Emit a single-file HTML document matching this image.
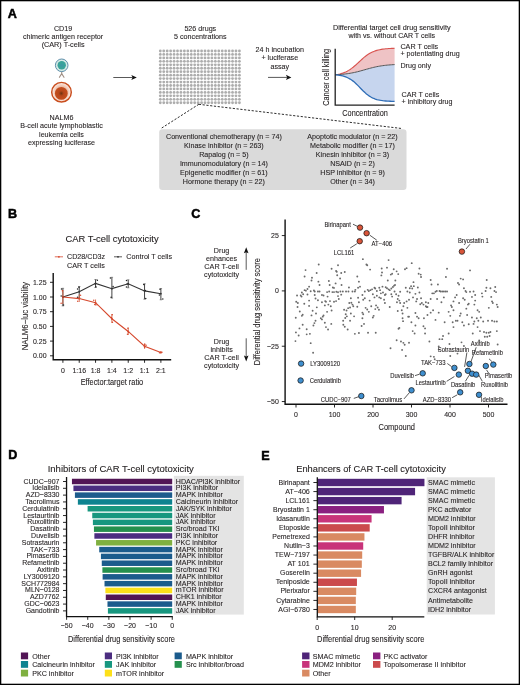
<!DOCTYPE html>
<html><head><meta charset="utf-8"><style>
html,body{margin:0;padding:0;background:#fff;}
svg{display:block;will-change:transform;}
text{font-family:"Liberation Sans", sans-serif;stroke:#231f20;stroke-width:0.1px;}
</style></head><body>
<svg width="520" height="685" viewBox="0 0 520 685">
<rect width="520" height="685" fill="#fff"/><g fill="#231f20">
<rect x="0.65" y="0.65" width="518.7" height="683.7" fill="none" stroke="#000" stroke-width="1.3"/>
<text x="7.80" y="18.20" font-size="12.6" fill="#000" font-weight="bold" style="stroke:#000;stroke-width:0.5px">A</text>
<text x="8.10" y="217.90" font-size="12.6" fill="#000" font-weight="bold" style="stroke:#000;stroke-width:0.5px">B</text>
<text x="191.30" y="217.90" font-size="12.6" fill="#000" font-weight="bold" style="stroke:#000;stroke-width:0.5px">C</text>
<text x="8.30" y="459.20" font-size="12.6" fill="#000" font-weight="bold" style="stroke:#000;stroke-width:0.5px">D</text>
<text x="261.20" y="459.80" font-size="12.6" fill="#000" font-weight="bold" style="stroke:#000;stroke-width:0.5px">E</text>
<text x="63.10" y="30.60" font-size="7.87" text-anchor="middle" textLength="18.28" lengthAdjust="spacingAndGlyphs">CD19</text>
<text x="63.10" y="38.75" font-size="7.87" text-anchor="middle" textLength="80.28" lengthAdjust="spacingAndGlyphs">chimeric antigen receptor</text>
<text x="63.10" y="47.10" font-size="7.87" text-anchor="middle" textLength="42.90" lengthAdjust="spacingAndGlyphs">(CAR) T-cells</text>
<text x="61.50" y="120.00" font-size="7.87" text-anchor="middle" textLength="23.84" lengthAdjust="spacingAndGlyphs">NALM6</text>
<text x="61.50" y="128.40" font-size="7.87" text-anchor="middle" textLength="82.66" lengthAdjust="spacingAndGlyphs">B-cell acute lymphoblastic</text>
<text x="61.50" y="136.70" font-size="7.87" text-anchor="middle" textLength="44.90" lengthAdjust="spacingAndGlyphs">leukemia cells</text>
<text x="61.50" y="145.00" font-size="7.87" text-anchor="middle" textLength="67.16" lengthAdjust="spacingAndGlyphs">expressing luciferase</text>
<g><path d="M61.7 71.5 L61.7 73.6 M61.7 73.6 L59.4 77.3 M61.7 73.6 L64.0 77.3" stroke="#a08f84" stroke-width="1.1" fill="none" stroke-linecap="round"/><circle cx="61.7" cy="65.3" r="6.3" fill="#d6ebe5" stroke="#5f8fab" stroke-width="1.0"/><circle cx="61.7" cy="65.3" r="4.2" fill="#3aa39a"/><circle cx="61.7" cy="65.3" r="1.6" fill="#3f95a8" opacity="0.6"/></g>
<defs><radialGradient id="ng" cx="50%" cy="50%" r="50%"><stop offset="0%" stop-color="#6e3410"/><stop offset="40%" stop-color="#b8461a"/><stop offset="100%" stop-color="#c44e1e"/></radialGradient><radialGradient id="ng2" cx="50%" cy="50%" r="50%"><stop offset="55%" stop-color="#eeb9a2"/><stop offset="100%" stop-color="#fdf1eb"/></radialGradient></defs>
<circle cx="61.5" cy="92.2" r="9.8" fill="url(#ng2)" stroke="#c94d1d" stroke-width="1.45"/>
<circle cx="61.3" cy="93.4" r="6.4" fill="url(#ng)"/>
<line x1="113.3" y1="77.5" x2="132.8" y2="77.5" stroke="#111" stroke-width="0.7"/>
<path d="M136.8 77.5 L131.3 74.9 L132.60000000000002 77.5 L131.3 80.1 Z" fill="#111"/>
<line x1="268.0" y1="77.4" x2="287.4" y2="77.4" stroke="#111" stroke-width="0.7"/>
<path d="M291.4 77.4 L285.9 74.80000000000001 L287.2 77.4 L285.9 80.0 Z" fill="#111"/>
<g fill="#adadad"><circle cx="160.30" cy="51.00" r="1.4"/><circle cx="163.74" cy="51.00" r="1.4"/><circle cx="167.18" cy="51.00" r="1.4"/><circle cx="170.62" cy="51.00" r="1.4"/><circle cx="174.06" cy="51.00" r="1.4"/><circle cx="177.50" cy="51.00" r="1.4"/><circle cx="180.94" cy="51.00" r="1.4"/><circle cx="184.38" cy="51.00" r="1.4"/><circle cx="187.82" cy="51.00" r="1.4"/><circle cx="191.26" cy="51.00" r="1.4"/><circle cx="194.70" cy="51.00" r="1.4"/><circle cx="198.14" cy="51.00" r="1.4"/><circle cx="201.58" cy="51.00" r="1.4"/><circle cx="205.02" cy="51.00" r="1.4"/><circle cx="208.46" cy="51.00" r="1.4"/><circle cx="211.90" cy="51.00" r="1.4"/><circle cx="215.34" cy="51.00" r="1.4"/><circle cx="218.78" cy="51.00" r="1.4"/><circle cx="222.22" cy="51.00" r="1.4"/><circle cx="225.66" cy="51.00" r="1.4"/><circle cx="229.10" cy="51.00" r="1.4"/><circle cx="232.54" cy="51.00" r="1.4"/><circle cx="235.98" cy="51.00" r="1.4"/><circle cx="239.42" cy="51.00" r="1.4"/><circle cx="160.30" cy="54.45" r="1.4"/><circle cx="163.74" cy="54.45" r="1.4"/><circle cx="167.18" cy="54.45" r="1.4"/><circle cx="170.62" cy="54.45" r="1.4"/><circle cx="174.06" cy="54.45" r="1.4"/><circle cx="177.50" cy="54.45" r="1.4"/><circle cx="180.94" cy="54.45" r="1.4"/><circle cx="184.38" cy="54.45" r="1.4"/><circle cx="187.82" cy="54.45" r="1.4"/><circle cx="191.26" cy="54.45" r="1.4"/><circle cx="194.70" cy="54.45" r="1.4"/><circle cx="198.14" cy="54.45" r="1.4"/><circle cx="201.58" cy="54.45" r="1.4"/><circle cx="205.02" cy="54.45" r="1.4"/><circle cx="208.46" cy="54.45" r="1.4"/><circle cx="211.90" cy="54.45" r="1.4"/><circle cx="215.34" cy="54.45" r="1.4"/><circle cx="218.78" cy="54.45" r="1.4"/><circle cx="222.22" cy="54.45" r="1.4"/><circle cx="225.66" cy="54.45" r="1.4"/><circle cx="229.10" cy="54.45" r="1.4"/><circle cx="232.54" cy="54.45" r="1.4"/><circle cx="235.98" cy="54.45" r="1.4"/><circle cx="239.42" cy="54.45" r="1.4"/><circle cx="160.30" cy="57.90" r="1.4"/><circle cx="163.74" cy="57.90" r="1.4"/><circle cx="167.18" cy="57.90" r="1.4"/><circle cx="170.62" cy="57.90" r="1.4"/><circle cx="174.06" cy="57.90" r="1.4"/><circle cx="177.50" cy="57.90" r="1.4"/><circle cx="180.94" cy="57.90" r="1.4"/><circle cx="184.38" cy="57.90" r="1.4"/><circle cx="187.82" cy="57.90" r="1.4"/><circle cx="191.26" cy="57.90" r="1.4"/><circle cx="194.70" cy="57.90" r="1.4"/><circle cx="198.14" cy="57.90" r="1.4"/><circle cx="201.58" cy="57.90" r="1.4"/><circle cx="205.02" cy="57.90" r="1.4"/><circle cx="208.46" cy="57.90" r="1.4"/><circle cx="211.90" cy="57.90" r="1.4"/><circle cx="215.34" cy="57.90" r="1.4"/><circle cx="218.78" cy="57.90" r="1.4"/><circle cx="222.22" cy="57.90" r="1.4"/><circle cx="225.66" cy="57.90" r="1.4"/><circle cx="229.10" cy="57.90" r="1.4"/><circle cx="232.54" cy="57.90" r="1.4"/><circle cx="235.98" cy="57.90" r="1.4"/><circle cx="239.42" cy="57.90" r="1.4"/><circle cx="160.30" cy="61.35" r="1.4"/><circle cx="163.74" cy="61.35" r="1.4"/><circle cx="167.18" cy="61.35" r="1.4"/><circle cx="170.62" cy="61.35" r="1.4"/><circle cx="174.06" cy="61.35" r="1.4"/><circle cx="177.50" cy="61.35" r="1.4"/><circle cx="180.94" cy="61.35" r="1.4"/><circle cx="184.38" cy="61.35" r="1.4"/><circle cx="187.82" cy="61.35" r="1.4"/><circle cx="191.26" cy="61.35" r="1.4"/><circle cx="194.70" cy="61.35" r="1.4"/><circle cx="198.14" cy="61.35" r="1.4"/><circle cx="201.58" cy="61.35" r="1.4"/><circle cx="205.02" cy="61.35" r="1.4"/><circle cx="208.46" cy="61.35" r="1.4"/><circle cx="211.90" cy="61.35" r="1.4"/><circle cx="215.34" cy="61.35" r="1.4"/><circle cx="218.78" cy="61.35" r="1.4"/><circle cx="222.22" cy="61.35" r="1.4"/><circle cx="225.66" cy="61.35" r="1.4"/><circle cx="229.10" cy="61.35" r="1.4"/><circle cx="232.54" cy="61.35" r="1.4"/><circle cx="235.98" cy="61.35" r="1.4"/><circle cx="239.42" cy="61.35" r="1.4"/><circle cx="160.30" cy="64.80" r="1.4"/><circle cx="163.74" cy="64.80" r="1.4"/><circle cx="167.18" cy="64.80" r="1.4"/><circle cx="170.62" cy="64.80" r="1.4"/><circle cx="174.06" cy="64.80" r="1.4"/><circle cx="177.50" cy="64.80" r="1.4"/><circle cx="180.94" cy="64.80" r="1.4"/><circle cx="184.38" cy="64.80" r="1.4"/><circle cx="187.82" cy="64.80" r="1.4"/><circle cx="191.26" cy="64.80" r="1.4"/><circle cx="194.70" cy="64.80" r="1.4"/><circle cx="198.14" cy="64.80" r="1.4"/><circle cx="201.58" cy="64.80" r="1.4"/><circle cx="205.02" cy="64.80" r="1.4"/><circle cx="208.46" cy="64.80" r="1.4"/><circle cx="211.90" cy="64.80" r="1.4"/><circle cx="215.34" cy="64.80" r="1.4"/><circle cx="218.78" cy="64.80" r="1.4"/><circle cx="222.22" cy="64.80" r="1.4"/><circle cx="225.66" cy="64.80" r="1.4"/><circle cx="229.10" cy="64.80" r="1.4"/><circle cx="232.54" cy="64.80" r="1.4"/><circle cx="235.98" cy="64.80" r="1.4"/><circle cx="239.42" cy="64.80" r="1.4"/><circle cx="160.30" cy="68.25" r="1.4"/><circle cx="163.74" cy="68.25" r="1.4"/><circle cx="167.18" cy="68.25" r="1.4"/><circle cx="170.62" cy="68.25" r="1.4"/><circle cx="174.06" cy="68.25" r="1.4"/><circle cx="177.50" cy="68.25" r="1.4"/><circle cx="180.94" cy="68.25" r="1.4"/><circle cx="184.38" cy="68.25" r="1.4"/><circle cx="187.82" cy="68.25" r="1.4"/><circle cx="191.26" cy="68.25" r="1.4"/><circle cx="194.70" cy="68.25" r="1.4"/><circle cx="198.14" cy="68.25" r="1.4"/><circle cx="201.58" cy="68.25" r="1.4"/><circle cx="205.02" cy="68.25" r="1.4"/><circle cx="208.46" cy="68.25" r="1.4"/><circle cx="211.90" cy="68.25" r="1.4"/><circle cx="215.34" cy="68.25" r="1.4"/><circle cx="218.78" cy="68.25" r="1.4"/><circle cx="222.22" cy="68.25" r="1.4"/><circle cx="225.66" cy="68.25" r="1.4"/><circle cx="229.10" cy="68.25" r="1.4"/><circle cx="232.54" cy="68.25" r="1.4"/><circle cx="235.98" cy="68.25" r="1.4"/><circle cx="239.42" cy="68.25" r="1.4"/><circle cx="160.30" cy="71.70" r="1.4"/><circle cx="163.74" cy="71.70" r="1.4"/><circle cx="167.18" cy="71.70" r="1.4"/><circle cx="170.62" cy="71.70" r="1.4"/><circle cx="174.06" cy="71.70" r="1.4"/><circle cx="177.50" cy="71.70" r="1.4"/><circle cx="180.94" cy="71.70" r="1.4"/><circle cx="184.38" cy="71.70" r="1.4"/><circle cx="187.82" cy="71.70" r="1.4"/><circle cx="191.26" cy="71.70" r="1.4"/><circle cx="194.70" cy="71.70" r="1.4"/><circle cx="198.14" cy="71.70" r="1.4"/><circle cx="201.58" cy="71.70" r="1.4"/><circle cx="205.02" cy="71.70" r="1.4"/><circle cx="208.46" cy="71.70" r="1.4"/><circle cx="211.90" cy="71.70" r="1.4"/><circle cx="215.34" cy="71.70" r="1.4"/><circle cx="218.78" cy="71.70" r="1.4"/><circle cx="222.22" cy="71.70" r="1.4"/><circle cx="225.66" cy="71.70" r="1.4"/><circle cx="229.10" cy="71.70" r="1.4"/><circle cx="232.54" cy="71.70" r="1.4"/><circle cx="235.98" cy="71.70" r="1.4"/><circle cx="239.42" cy="71.70" r="1.4"/><circle cx="160.30" cy="75.15" r="1.4"/><circle cx="163.74" cy="75.15" r="1.4"/><circle cx="167.18" cy="75.15" r="1.4"/><circle cx="170.62" cy="75.15" r="1.4"/><circle cx="174.06" cy="75.15" r="1.4"/><circle cx="177.50" cy="75.15" r="1.4"/><circle cx="180.94" cy="75.15" r="1.4"/><circle cx="184.38" cy="75.15" r="1.4"/><circle cx="187.82" cy="75.15" r="1.4"/><circle cx="191.26" cy="75.15" r="1.4"/><circle cx="194.70" cy="75.15" r="1.4"/><circle cx="198.14" cy="75.15" r="1.4"/><circle cx="201.58" cy="75.15" r="1.4"/><circle cx="205.02" cy="75.15" r="1.4"/><circle cx="208.46" cy="75.15" r="1.4"/><circle cx="211.90" cy="75.15" r="1.4"/><circle cx="215.34" cy="75.15" r="1.4"/><circle cx="218.78" cy="75.15" r="1.4"/><circle cx="222.22" cy="75.15" r="1.4"/><circle cx="225.66" cy="75.15" r="1.4"/><circle cx="229.10" cy="75.15" r="1.4"/><circle cx="232.54" cy="75.15" r="1.4"/><circle cx="235.98" cy="75.15" r="1.4"/><circle cx="239.42" cy="75.15" r="1.4"/><circle cx="160.30" cy="78.60" r="1.4"/><circle cx="163.74" cy="78.60" r="1.4"/><circle cx="167.18" cy="78.60" r="1.4"/><circle cx="170.62" cy="78.60" r="1.4"/><circle cx="174.06" cy="78.60" r="1.4"/><circle cx="177.50" cy="78.60" r="1.4"/><circle cx="180.94" cy="78.60" r="1.4"/><circle cx="184.38" cy="78.60" r="1.4"/><circle cx="187.82" cy="78.60" r="1.4"/><circle cx="191.26" cy="78.60" r="1.4"/><circle cx="194.70" cy="78.60" r="1.4"/><circle cx="198.14" cy="78.60" r="1.4"/><circle cx="201.58" cy="78.60" r="1.4"/><circle cx="205.02" cy="78.60" r="1.4"/><circle cx="208.46" cy="78.60" r="1.4"/><circle cx="211.90" cy="78.60" r="1.4"/><circle cx="215.34" cy="78.60" r="1.4"/><circle cx="218.78" cy="78.60" r="1.4"/><circle cx="222.22" cy="78.60" r="1.4"/><circle cx="225.66" cy="78.60" r="1.4"/><circle cx="229.10" cy="78.60" r="1.4"/><circle cx="232.54" cy="78.60" r="1.4"/><circle cx="235.98" cy="78.60" r="1.4"/><circle cx="239.42" cy="78.60" r="1.4"/><circle cx="160.30" cy="82.05" r="1.4"/><circle cx="163.74" cy="82.05" r="1.4"/><circle cx="167.18" cy="82.05" r="1.4"/><circle cx="170.62" cy="82.05" r="1.4"/><circle cx="174.06" cy="82.05" r="1.4"/><circle cx="177.50" cy="82.05" r="1.4"/><circle cx="180.94" cy="82.05" r="1.4"/><circle cx="184.38" cy="82.05" r="1.4"/><circle cx="187.82" cy="82.05" r="1.4"/><circle cx="191.26" cy="82.05" r="1.4"/><circle cx="194.70" cy="82.05" r="1.4"/><circle cx="198.14" cy="82.05" r="1.4"/><circle cx="201.58" cy="82.05" r="1.4"/><circle cx="205.02" cy="82.05" r="1.4"/><circle cx="208.46" cy="82.05" r="1.4"/><circle cx="211.90" cy="82.05" r="1.4"/><circle cx="215.34" cy="82.05" r="1.4"/><circle cx="218.78" cy="82.05" r="1.4"/><circle cx="222.22" cy="82.05" r="1.4"/><circle cx="225.66" cy="82.05" r="1.4"/><circle cx="229.10" cy="82.05" r="1.4"/><circle cx="232.54" cy="82.05" r="1.4"/><circle cx="235.98" cy="82.05" r="1.4"/><circle cx="239.42" cy="82.05" r="1.4"/><circle cx="160.30" cy="85.50" r="1.4"/><circle cx="163.74" cy="85.50" r="1.4"/><circle cx="167.18" cy="85.50" r="1.4"/><circle cx="170.62" cy="85.50" r="1.4"/><circle cx="174.06" cy="85.50" r="1.4"/><circle cx="177.50" cy="85.50" r="1.4"/><circle cx="180.94" cy="85.50" r="1.4"/><circle cx="184.38" cy="85.50" r="1.4"/><circle cx="187.82" cy="85.50" r="1.4"/><circle cx="191.26" cy="85.50" r="1.4"/><circle cx="194.70" cy="85.50" r="1.4"/><circle cx="198.14" cy="85.50" r="1.4"/><circle cx="201.58" cy="85.50" r="1.4"/><circle cx="205.02" cy="85.50" r="1.4"/><circle cx="208.46" cy="85.50" r="1.4"/><circle cx="211.90" cy="85.50" r="1.4"/><circle cx="215.34" cy="85.50" r="1.4"/><circle cx="218.78" cy="85.50" r="1.4"/><circle cx="222.22" cy="85.50" r="1.4"/><circle cx="225.66" cy="85.50" r="1.4"/><circle cx="229.10" cy="85.50" r="1.4"/><circle cx="232.54" cy="85.50" r="1.4"/><circle cx="235.98" cy="85.50" r="1.4"/><circle cx="239.42" cy="85.50" r="1.4"/><circle cx="160.30" cy="88.95" r="1.4"/><circle cx="163.74" cy="88.95" r="1.4"/><circle cx="167.18" cy="88.95" r="1.4"/><circle cx="170.62" cy="88.95" r="1.4"/><circle cx="174.06" cy="88.95" r="1.4"/><circle cx="177.50" cy="88.95" r="1.4"/><circle cx="180.94" cy="88.95" r="1.4"/><circle cx="184.38" cy="88.95" r="1.4"/><circle cx="187.82" cy="88.95" r="1.4"/><circle cx="191.26" cy="88.95" r="1.4"/><circle cx="194.70" cy="88.95" r="1.4"/><circle cx="198.14" cy="88.95" r="1.4"/><circle cx="201.58" cy="88.95" r="1.4"/><circle cx="205.02" cy="88.95" r="1.4"/><circle cx="208.46" cy="88.95" r="1.4"/><circle cx="211.90" cy="88.95" r="1.4"/><circle cx="215.34" cy="88.95" r="1.4"/><circle cx="218.78" cy="88.95" r="1.4"/><circle cx="222.22" cy="88.95" r="1.4"/><circle cx="225.66" cy="88.95" r="1.4"/><circle cx="229.10" cy="88.95" r="1.4"/><circle cx="232.54" cy="88.95" r="1.4"/><circle cx="235.98" cy="88.95" r="1.4"/><circle cx="239.42" cy="88.95" r="1.4"/><circle cx="160.30" cy="92.40" r="1.4"/><circle cx="163.74" cy="92.40" r="1.4"/><circle cx="167.18" cy="92.40" r="1.4"/><circle cx="170.62" cy="92.40" r="1.4"/><circle cx="174.06" cy="92.40" r="1.4"/><circle cx="177.50" cy="92.40" r="1.4"/><circle cx="180.94" cy="92.40" r="1.4"/><circle cx="184.38" cy="92.40" r="1.4"/><circle cx="187.82" cy="92.40" r="1.4"/><circle cx="191.26" cy="92.40" r="1.4"/><circle cx="194.70" cy="92.40" r="1.4"/><circle cx="198.14" cy="92.40" r="1.4"/><circle cx="201.58" cy="92.40" r="1.4"/><circle cx="205.02" cy="92.40" r="1.4"/><circle cx="208.46" cy="92.40" r="1.4"/><circle cx="211.90" cy="92.40" r="1.4"/><circle cx="215.34" cy="92.40" r="1.4"/><circle cx="218.78" cy="92.40" r="1.4"/><circle cx="222.22" cy="92.40" r="1.4"/><circle cx="225.66" cy="92.40" r="1.4"/><circle cx="229.10" cy="92.40" r="1.4"/><circle cx="232.54" cy="92.40" r="1.4"/><circle cx="235.98" cy="92.40" r="1.4"/><circle cx="239.42" cy="92.40" r="1.4"/><circle cx="160.30" cy="95.85" r="1.4"/><circle cx="163.74" cy="95.85" r="1.4"/><circle cx="167.18" cy="95.85" r="1.4"/><circle cx="170.62" cy="95.85" r="1.4"/><circle cx="174.06" cy="95.85" r="1.4"/><circle cx="177.50" cy="95.85" r="1.4"/><circle cx="180.94" cy="95.85" r="1.4"/><circle cx="184.38" cy="95.85" r="1.4"/><circle cx="187.82" cy="95.85" r="1.4"/><circle cx="191.26" cy="95.85" r="1.4"/><circle cx="194.70" cy="95.85" r="1.4"/><circle cx="198.14" cy="95.85" r="1.4"/><circle cx="201.58" cy="95.85" r="1.4"/><circle cx="205.02" cy="95.85" r="1.4"/><circle cx="208.46" cy="95.85" r="1.4"/><circle cx="211.90" cy="95.85" r="1.4"/><circle cx="215.34" cy="95.85" r="1.4"/><circle cx="218.78" cy="95.85" r="1.4"/><circle cx="222.22" cy="95.85" r="1.4"/><circle cx="225.66" cy="95.85" r="1.4"/><circle cx="229.10" cy="95.85" r="1.4"/><circle cx="232.54" cy="95.85" r="1.4"/><circle cx="235.98" cy="95.85" r="1.4"/><circle cx="239.42" cy="95.85" r="1.4"/><circle cx="160.30" cy="99.30" r="1.4"/><circle cx="163.74" cy="99.30" r="1.4"/><circle cx="167.18" cy="99.30" r="1.4"/><circle cx="170.62" cy="99.30" r="1.4"/><circle cx="174.06" cy="99.30" r="1.4"/><circle cx="177.50" cy="99.30" r="1.4"/><circle cx="180.94" cy="99.30" r="1.4"/><circle cx="184.38" cy="99.30" r="1.4"/><circle cx="187.82" cy="99.30" r="1.4"/><circle cx="191.26" cy="99.30" r="1.4"/><circle cx="194.70" cy="99.30" r="1.4"/><circle cx="198.14" cy="99.30" r="1.4"/><circle cx="201.58" cy="99.30" r="1.4"/><circle cx="205.02" cy="99.30" r="1.4"/><circle cx="208.46" cy="99.30" r="1.4"/><circle cx="211.90" cy="99.30" r="1.4"/><circle cx="215.34" cy="99.30" r="1.4"/><circle cx="218.78" cy="99.30" r="1.4"/><circle cx="222.22" cy="99.30" r="1.4"/><circle cx="225.66" cy="99.30" r="1.4"/><circle cx="229.10" cy="99.30" r="1.4"/><circle cx="232.54" cy="99.30" r="1.4"/><circle cx="235.98" cy="99.30" r="1.4"/><circle cx="239.42" cy="99.30" r="1.4"/><circle cx="160.30" cy="102.75" r="1.4"/><circle cx="163.74" cy="102.75" r="1.4"/><circle cx="167.18" cy="102.75" r="1.4"/><circle cx="170.62" cy="102.75" r="1.4"/><circle cx="174.06" cy="102.75" r="1.4"/><circle cx="177.50" cy="102.75" r="1.4"/><circle cx="180.94" cy="102.75" r="1.4"/><circle cx="184.38" cy="102.75" r="1.4"/><circle cx="187.82" cy="102.75" r="1.4"/><circle cx="191.26" cy="102.75" r="1.4"/><circle cx="194.70" cy="102.75" r="1.4"/><circle cx="198.14" cy="102.75" r="1.4"/><circle cx="201.58" cy="102.75" r="1.4"/><circle cx="205.02" cy="102.75" r="1.4"/><circle cx="208.46" cy="102.75" r="1.4"/><circle cx="211.90" cy="102.75" r="1.4"/><circle cx="215.34" cy="102.75" r="1.4"/><circle cx="218.78" cy="102.75" r="1.4"/><circle cx="222.22" cy="102.75" r="1.4"/><circle cx="225.66" cy="102.75" r="1.4"/><circle cx="229.10" cy="102.75" r="1.4"/><circle cx="232.54" cy="102.75" r="1.4"/><circle cx="235.98" cy="102.75" r="1.4"/><circle cx="239.42" cy="102.75" r="1.4"/></g>
<text x="200.30" y="30.80" font-size="7.87" text-anchor="middle" textLength="31.80" lengthAdjust="spacingAndGlyphs">526 drugs</text>
<text x="200.30" y="38.80" font-size="7.87" text-anchor="middle" textLength="52.47" lengthAdjust="spacingAndGlyphs">5 concentrations</text>
<text x="279.80" y="51.50" font-size="7.87" text-anchor="middle" textLength="48.50" lengthAdjust="spacingAndGlyphs">24 h incubation</text>
<text x="279.80" y="60.00" font-size="7.87" text-anchor="middle" textLength="36.76" lengthAdjust="spacingAndGlyphs">+ luciferase</text>
<text x="279.80" y="68.50" font-size="7.87" text-anchor="middle" textLength="18.68" lengthAdjust="spacingAndGlyphs">assay</text>
<path d="M198.8 104.3 L160.5 128.8 M198.8 104.3 L402.5 128.6" stroke="#222" stroke-width="0.95" stroke-dasharray="2.2 1.6" fill="none"/>
<rect x="159.2" y="129.2" width="247.3" height="60.8" rx="3.2" fill="#dadada"/>
<text x="223.90" y="139.25" font-size="7.87" text-anchor="middle" textLength="115.86" lengthAdjust="spacingAndGlyphs">Conventional chemotherapy (n = 74)</text>
<text x="352.50" y="139.25" font-size="7.87" text-anchor="middle" textLength="90.42" lengthAdjust="spacingAndGlyphs">Apoptotic modulator (n = 22)</text>
<text x="223.90" y="148.25" font-size="7.87" text-anchor="middle" textLength="79.69" lengthAdjust="spacingAndGlyphs">Kinase inhibitor (n = 263)</text>
<text x="352.50" y="148.25" font-size="7.87" text-anchor="middle" textLength="84.84" lengthAdjust="spacingAndGlyphs">Metabolic modifier (n = 17)</text>
<text x="223.90" y="157.25" font-size="7.87" text-anchor="middle" textLength="49.48" lengthAdjust="spacingAndGlyphs">Rapalog (n = 5)</text>
<text x="352.50" y="157.25" font-size="7.87" text-anchor="middle" textLength="73.33" lengthAdjust="spacingAndGlyphs">Kinesin inhibitor (n = 3)</text>
<text x="223.90" y="166.25" font-size="7.87" text-anchor="middle" textLength="88.02" lengthAdjust="spacingAndGlyphs">Immunomodulatory (n = 14)</text>
<text x="352.50" y="166.25" font-size="7.87" text-anchor="middle" textLength="44.70" lengthAdjust="spacingAndGlyphs">NSAID (n = 2)</text>
<text x="223.90" y="175.25" font-size="7.87" text-anchor="middle" textLength="87.63" lengthAdjust="spacingAndGlyphs">Epigenetic modifier (n = 61)</text>
<text x="352.50" y="175.25" font-size="7.87" text-anchor="middle" textLength="64.58" lengthAdjust="spacingAndGlyphs">HSP inhibitor (n = 9)</text>
<text x="223.90" y="184.25" font-size="7.87" text-anchor="middle" textLength="82.07" lengthAdjust="spacingAndGlyphs">Hormone therapy (n = 22)</text>
<text x="352.50" y="184.25" font-size="7.87" text-anchor="middle" textLength="44.71" lengthAdjust="spacingAndGlyphs">Other (n = 34)</text>
<polygon points="335.30,74.80 336.78,74.57 338.26,74.29 339.75,73.97 341.23,73.58 342.71,73.11 344.19,72.57 345.68,71.94 347.16,71.22 348.64,70.39 350.12,69.45 351.61,68.41 353.09,67.27 354.57,66.03 356.06,64.73 357.54,63.37 359.02,61.98 360.50,60.59 361.99,59.24 363.47,57.93 364.95,56.70 366.43,55.55 367.92,54.51 369.40,53.58 370.88,52.75 372.36,52.02 373.85,51.39 375.33,50.85 376.81,50.39 378.29,50.00 379.78,49.67 381.26,49.39 382.74,49.16 384.22,48.97 385.71,48.81 387.19,48.68 388.67,48.57 390.15,48.48 391.63,48.41 393.12,48.35 394.60,48.30 394.60,64.60 393.12,64.68 391.63,64.78 390.15,64.88 388.67,65.00 387.19,65.14 385.71,65.29 384.22,65.47 382.74,65.66 381.26,65.88 379.78,66.12 378.29,66.39 376.81,66.67 375.33,66.99 373.85,67.32 372.36,67.68 370.88,68.06 369.40,68.45 367.92,68.86 366.43,69.28 364.95,69.70 363.47,70.12 361.99,70.54 360.50,70.95 359.02,71.34 357.54,71.72 356.06,72.08 354.57,72.41 353.09,72.73 351.61,73.01 350.12,73.28 348.64,73.52 347.16,73.74 345.68,73.93 344.19,74.11 342.71,74.26 341.23,74.40 339.75,74.52 338.26,74.62 336.78,74.72 335.30,74.80" fill="#efc3c5"/>
<polygon points="335.30,74.80 336.78,74.72 338.26,74.62 339.75,74.52 341.23,74.40 342.71,74.26 344.19,74.11 345.68,73.93 347.16,73.74 348.64,73.52 350.12,73.28 351.61,73.01 353.09,72.73 354.57,72.41 356.06,72.08 357.54,71.72 359.02,71.34 360.50,70.95 361.99,70.54 363.47,70.12 364.95,69.70 366.43,69.28 367.92,68.86 369.40,68.45 370.88,68.06 372.36,67.68 373.85,67.32 375.33,66.99 376.81,66.67 378.29,66.39 379.78,66.12 381.26,65.88 382.74,65.66 384.22,65.47 385.71,65.29 387.19,65.14 388.67,65.00 390.15,64.88 391.63,64.78 393.12,64.68 394.60,64.60 394.60,101.40 393.12,101.36 391.63,101.32 390.15,101.26 388.67,101.19 387.19,101.10 385.71,100.99 384.22,100.85 382.74,100.68 381.26,100.47 379.78,100.21 378.29,99.90 376.81,99.51 375.33,99.04 373.85,98.48 372.36,97.81 370.88,97.03 369.40,96.11 367.92,95.07 366.43,93.89 364.95,92.59 363.47,91.19 361.99,89.70 360.50,88.18 359.02,86.64 357.54,85.14 356.06,83.70 354.57,82.35 353.09,81.12 351.61,80.03 350.12,79.06 348.64,78.22 347.16,77.51 345.68,76.91 344.19,76.40 342.71,75.99 341.23,75.64 339.75,75.36 338.26,75.13 336.78,74.95 335.30,74.80" fill="#c6d5ee"/>
<polyline points="335.30,74.80 336.78,74.57 338.26,74.29 339.75,73.97 341.23,73.58 342.71,73.11 344.19,72.57 345.68,71.94 347.16,71.22 348.64,70.39 350.12,69.45 351.61,68.41 353.09,67.27 354.57,66.03 356.06,64.73 357.54,63.37 359.02,61.98 360.50,60.59 361.99,59.24 363.47,57.93 364.95,56.70 366.43,55.55 367.92,54.51 369.40,53.58 370.88,52.75 372.36,52.02 373.85,51.39 375.33,50.85 376.81,50.39 378.29,50.00 379.78,49.67 381.26,49.39 382.74,49.16 384.22,48.97 385.71,48.81 387.19,48.68 388.67,48.57 390.15,48.48 391.63,48.41 393.12,48.35 394.60,48.30" fill="none" stroke="#d9534f" stroke-width="1.1"/>
<polyline points="335.30,74.80 336.78,74.72 338.26,74.62 339.75,74.52 341.23,74.40 342.71,74.26 344.19,74.11 345.68,73.93 347.16,73.74 348.64,73.52 350.12,73.28 351.61,73.01 353.09,72.73 354.57,72.41 356.06,72.08 357.54,71.72 359.02,71.34 360.50,70.95 361.99,70.54 363.47,70.12 364.95,69.70 366.43,69.28 367.92,68.86 369.40,68.45 370.88,68.06 372.36,67.68 373.85,67.32 375.33,66.99 376.81,66.67 378.29,66.39 379.78,66.12 381.26,65.88 382.74,65.66 384.22,65.47 385.71,65.29 387.19,65.14 388.67,65.00 390.15,64.88 391.63,64.78 393.12,64.68 394.60,64.60" fill="none" stroke="#555" stroke-width="1.0"/>
<polyline points="335.30,74.80 336.78,74.95 338.26,75.13 339.75,75.36 341.23,75.64 342.71,75.99 344.19,76.40 345.68,76.91 347.16,77.51 348.64,78.22 350.12,79.06 351.61,80.03 353.09,81.12 354.57,82.35 356.06,83.70 357.54,85.14 359.02,86.64 360.50,88.18 361.99,89.70 363.47,91.19 364.95,92.59 366.43,93.89 367.92,95.07 369.40,96.11 370.88,97.03 372.36,97.81 373.85,98.48 375.33,99.04 376.81,99.51 378.29,99.90 379.78,100.21 381.26,100.47 382.74,100.68 384.22,100.85 385.71,100.99 387.19,101.10 388.67,101.19 390.15,101.26 391.63,101.32 393.12,101.36 394.60,101.40" fill="none" stroke="#2f6db6" stroke-width="1.3"/>
<path d="M335.2 48.8 L335.2 105.2 L394.6 105.2" fill="none" stroke="#222" stroke-width="1.3"/>
<text x="333.00" y="30.00" font-size="7.15" textLength="117.50" lengthAdjust="spacingAndGlyphs">Differential target cell drug sensitivity</text>
<text x="348.50" y="38.30" font-size="7.15" textLength="86.50" lengthAdjust="spacingAndGlyphs">with vs. without CAR T cells</text>
<text x="400.40" y="49.00" font-size="7.87" textLength="37.74" lengthAdjust="spacingAndGlyphs">CAR T cells</text>
<text x="400.40" y="55.90" font-size="7.87" textLength="59.43" lengthAdjust="spacingAndGlyphs">+ potentiating drug</text>
<text x="400.40" y="68.10" font-size="7.87" textLength="30.60" lengthAdjust="spacingAndGlyphs">Drug only</text>
<text x="401.50" y="97.40" font-size="7.87" textLength="37.74" lengthAdjust="spacingAndGlyphs">CAR T cells</text>
<text x="401.50" y="104.20" font-size="7.87" textLength="51.07" lengthAdjust="spacingAndGlyphs">+ inhibitory drug</text>
<text x="342.30" y="116.20" font-size="9.0" textLength="45.50" lengthAdjust="spacingAndGlyphs">Concentration</text>
<text x="328.80" y="105.80" font-size="9.0" textLength="57.00" lengthAdjust="spacingAndGlyphs" transform="rotate(-90 328.80 105.80)">Cancer cell killing</text>
<text x="65.60" y="241.70" font-size="9.3" textLength="93.00" lengthAdjust="spacingAndGlyphs">CAR T-cell cytotoxicity</text>
<line x1="54.8" y1="256.8" x2="63" y2="256.8" stroke="#d6492e" stroke-width="0.8"/><circle cx="58.9" cy="256.8" r="0.9" fill="#d6492e"/>
<line x1="114" y1="256.8" x2="122" y2="256.8" stroke="#333" stroke-width="0.8"/><circle cx="118" cy="256.8" r="0.9" fill="#333"/>
<text x="67.00" y="259.20" font-size="7.87" textLength="38.14" lengthAdjust="spacingAndGlyphs">CD28/CD3z</text>
<text x="67.00" y="268.30" font-size="7.87" textLength="37.74" lengthAdjust="spacingAndGlyphs">CAR T cells</text>
<text x="126.30" y="259.20" font-size="7.87" textLength="45.69" lengthAdjust="spacingAndGlyphs">Control T cells</text>
<path d="M53.2 273 L53.2 359.7 L171.2 359.7" fill="none" stroke="#111" stroke-width="1.4"/>
<line x1="50" y1="282.30" x2="53.2" y2="282.30" stroke="#111" stroke-width="0.9"/>
<text x="46.60" y="284.80" font-size="7.7" text-anchor="end" textLength="13.62" lengthAdjust="spacingAndGlyphs">1.25</text>
<line x1="50" y1="297.00" x2="53.2" y2="297.00" stroke="#111" stroke-width="0.9"/>
<text x="46.60" y="299.50" font-size="7.7" text-anchor="end" textLength="13.62" lengthAdjust="spacingAndGlyphs">1.00</text>
<line x1="50" y1="311.70" x2="53.2" y2="311.70" stroke="#111" stroke-width="0.9"/>
<text x="46.60" y="314.20" font-size="7.7" text-anchor="end" textLength="13.62" lengthAdjust="spacingAndGlyphs">0.75</text>
<line x1="50" y1="326.40" x2="53.2" y2="326.40" stroke="#111" stroke-width="0.9"/>
<text x="46.60" y="328.90" font-size="7.7" text-anchor="end" textLength="13.62" lengthAdjust="spacingAndGlyphs">0.50</text>
<line x1="50" y1="341.10" x2="53.2" y2="341.10" stroke="#111" stroke-width="0.9"/>
<text x="46.60" y="343.60" font-size="7.7" text-anchor="end" textLength="13.62" lengthAdjust="spacingAndGlyphs">0.25</text>
<line x1="50" y1="355.80" x2="53.2" y2="355.80" stroke="#111" stroke-width="0.9"/>
<text x="46.60" y="358.30" font-size="7.7" text-anchor="end" textLength="13.62" lengthAdjust="spacingAndGlyphs">0.00</text>
<line x1="62.90" y1="359.7" x2="62.90" y2="362.8" stroke="#111" stroke-width="0.9"/>
<text x="62.90" y="372.50" font-size="7.7" text-anchor="middle" textLength="3.89" lengthAdjust="spacingAndGlyphs">0</text>
<line x1="79.23" y1="359.7" x2="79.23" y2="362.8" stroke="#111" stroke-width="0.9"/>
<text x="79.23" y="372.50" font-size="7.7" text-anchor="middle" textLength="13.62" lengthAdjust="spacingAndGlyphs">1:16</text>
<line x1="95.56" y1="359.7" x2="95.56" y2="362.8" stroke="#111" stroke-width="0.9"/>
<text x="95.56" y="372.50" font-size="7.7" text-anchor="middle" textLength="9.73" lengthAdjust="spacingAndGlyphs">1:8</text>
<line x1="111.89" y1="359.7" x2="111.89" y2="362.8" stroke="#111" stroke-width="0.9"/>
<text x="111.89" y="372.50" font-size="7.7" text-anchor="middle" textLength="9.73" lengthAdjust="spacingAndGlyphs">1:4</text>
<line x1="128.22" y1="359.7" x2="128.22" y2="362.8" stroke="#111" stroke-width="0.9"/>
<text x="128.22" y="372.50" font-size="7.7" text-anchor="middle" textLength="9.73" lengthAdjust="spacingAndGlyphs">1:2</text>
<line x1="144.55" y1="359.7" x2="144.55" y2="362.8" stroke="#111" stroke-width="0.9"/>
<text x="144.55" y="372.50" font-size="7.7" text-anchor="middle" textLength="9.73" lengthAdjust="spacingAndGlyphs">1:1</text>
<line x1="160.88" y1="359.7" x2="160.88" y2="362.8" stroke="#111" stroke-width="0.9"/>
<text x="160.88" y="372.50" font-size="7.7" text-anchor="middle" textLength="9.73" lengthAdjust="spacingAndGlyphs">2:1</text>
<text x="80.70" y="385.00" font-size="8.6" textLength="62.50" lengthAdjust="spacingAndGlyphs">Effector:target ratio</text>
<text x="27.70" y="350.30" font-size="8.6" textLength="68.30" lengthAdjust="spacingAndGlyphs" transform="rotate(-90 27.70 350.30)">NALM6−luc viability</text>
<line x1="62.90" y1="288.3" x2="62.90" y2="305.9" stroke="#444" stroke-width="1.0"/><line x1="61.70" y1="288.3" x2="64.10" y2="288.3" stroke="#555" stroke-width="0.6"/><line x1="61.70" y1="305.9" x2="64.10" y2="305.9" stroke="#555" stroke-width="0.6"/><line x1="62.90" y1="290" x2="62.90" y2="304" stroke="#d9603f" stroke-width="0.9"/><line x1="79.23" y1="286.5" x2="79.23" y2="298.0" stroke="#444" stroke-width="1.0"/><line x1="78.03" y1="286.5" x2="80.43" y2="286.5" stroke="#555" stroke-width="0.6"/><line x1="78.03" y1="298.0" x2="80.43" y2="298.0" stroke="#555" stroke-width="0.6"/><line x1="79.23" y1="294.5" x2="79.23" y2="302" stroke="#d9603f" stroke-width="0.9"/><line x1="95.56" y1="279.5" x2="95.56" y2="287.5" stroke="#444" stroke-width="1.0"/><line x1="94.36" y1="279.5" x2="96.76" y2="279.5" stroke="#555" stroke-width="0.6"/><line x1="94.36" y1="287.5" x2="96.76" y2="287.5" stroke="#555" stroke-width="0.6"/><line x1="95.56" y1="299.5" x2="95.56" y2="305.5" stroke="#d9603f" stroke-width="0.9"/><line x1="111.89" y1="277.3" x2="111.89" y2="298.1" stroke="#444" stroke-width="1.0"/><line x1="110.69" y1="277.3" x2="113.09" y2="277.3" stroke="#555" stroke-width="0.6"/><line x1="110.69" y1="298.1" x2="113.09" y2="298.1" stroke="#555" stroke-width="0.6"/><line x1="111.89" y1="314" x2="111.89" y2="323" stroke="#d9603f" stroke-width="0.9"/><line x1="128.22" y1="279.8" x2="128.22" y2="287.8" stroke="#444" stroke-width="1.0"/><line x1="127.02" y1="279.8" x2="129.42" y2="279.8" stroke="#555" stroke-width="0.6"/><line x1="127.02" y1="287.8" x2="129.42" y2="287.8" stroke="#555" stroke-width="0.6"/><line x1="128.22" y1="327.5" x2="128.22" y2="335" stroke="#d9603f" stroke-width="0.9"/><line x1="144.55" y1="283.8" x2="144.55" y2="299.2" stroke="#444" stroke-width="1.0"/><line x1="143.35" y1="283.8" x2="145.75" y2="283.8" stroke="#555" stroke-width="0.6"/><line x1="143.35" y1="299.2" x2="145.75" y2="299.2" stroke="#555" stroke-width="0.6"/><line x1="144.55" y1="343.5" x2="144.55" y2="348.5" stroke="#d9603f" stroke-width="0.9"/><line x1="160.88" y1="288.5" x2="160.88" y2="299.8" stroke="#444" stroke-width="1.0"/><line x1="159.68" y1="288.5" x2="162.08" y2="288.5" stroke="#555" stroke-width="0.6"/><line x1="159.68" y1="299.8" x2="162.08" y2="299.8" stroke="#555" stroke-width="0.6"/><line x1="160.88" y1="351.5" x2="160.88" y2="353.5" stroke="#d9603f" stroke-width="0.9"/>
<polyline points="62.90,297.00 79.23,291.71 95.56,283.36 111.89,288.65 128.22,283.77 144.55,290.88 160.88,293.71" fill="none" stroke="#333" stroke-width="1.1"/>
<polyline points="62.90,297.00 79.23,298.59 95.56,302.64 111.89,318.76 128.22,331.46 144.55,346.27 160.88,352.51" fill="none" stroke="#d6492e" stroke-width="1.1"/>
<circle cx="61.50" cy="289.10" r="0.75" fill="#222"/><circle cx="63.50" cy="305.10" r="0.75" fill="#222"/><circle cx="61.19" cy="295.94" r="0.75" fill="#222"/><circle cx="62.36" cy="290.80" r="0.75" fill="#d6492e"/><circle cx="61.13" cy="303.20" r="0.75" fill="#d6492e"/><circle cx="62.93" cy="297.14" r="0.75" fill="#d6492e"/><circle cx="62.90" cy="297.00" r="0.9" fill="#333"/><circle cx="62.90" cy="297.00" r="0.9" fill="#d6492e"/><circle cx="78.96" cy="287.30" r="0.75" fill="#222"/><circle cx="77.51" cy="297.20" r="0.75" fill="#222"/><circle cx="77.59" cy="288.93" r="0.75" fill="#222"/><circle cx="80.54" cy="295.30" r="0.75" fill="#d6492e"/><circle cx="77.73" cy="301.20" r="0.75" fill="#d6492e"/><circle cx="78.12" cy="298.29" r="0.75" fill="#d6492e"/><circle cx="79.23" cy="291.71" r="0.9" fill="#333"/><circle cx="79.23" cy="298.59" r="0.9" fill="#d6492e"/><circle cx="97.35" cy="280.30" r="0.75" fill="#222"/><circle cx="95.87" cy="286.70" r="0.75" fill="#222"/><circle cx="95.15" cy="284.12" r="0.75" fill="#222"/><circle cx="93.75" cy="300.30" r="0.75" fill="#d6492e"/><circle cx="96.99" cy="304.70" r="0.75" fill="#d6492e"/><circle cx="94.72" cy="304.55" r="0.75" fill="#d6492e"/><circle cx="95.56" cy="283.36" r="0.9" fill="#333"/><circle cx="95.56" cy="302.64" r="0.9" fill="#d6492e"/><circle cx="110.36" cy="278.10" r="0.75" fill="#222"/><circle cx="111.12" cy="297.30" r="0.75" fill="#222"/><circle cx="113.15" cy="286.52" r="0.75" fill="#222"/><circle cx="112.22" cy="314.80" r="0.75" fill="#d6492e"/><circle cx="112.45" cy="322.20" r="0.75" fill="#d6492e"/><circle cx="111.38" cy="317.48" r="0.75" fill="#d6492e"/><circle cx="111.89" cy="288.65" r="0.9" fill="#333"/><circle cx="111.89" cy="318.76" r="0.9" fill="#d6492e"/><circle cx="126.47" cy="280.60" r="0.75" fill="#222"/><circle cx="126.46" cy="287.00" r="0.75" fill="#222"/><circle cx="127.04" cy="284.06" r="0.75" fill="#222"/><circle cx="127.93" cy="328.30" r="0.75" fill="#d6492e"/><circle cx="127.48" cy="334.20" r="0.75" fill="#d6492e"/><circle cx="128.56" cy="332.18" r="0.75" fill="#d6492e"/><circle cx="128.22" cy="283.77" r="0.9" fill="#333"/><circle cx="128.22" cy="331.46" r="0.9" fill="#d6492e"/><circle cx="143.75" cy="284.60" r="0.75" fill="#222"/><circle cx="145.73" cy="298.40" r="0.75" fill="#222"/><circle cx="145.35" cy="290.60" r="0.75" fill="#222"/><circle cx="144.85" cy="344.30" r="0.75" fill="#d6492e"/><circle cx="144.65" cy="347.70" r="0.75" fill="#d6492e"/><circle cx="146.05" cy="345.25" r="0.75" fill="#d6492e"/><circle cx="144.55" cy="290.88" r="0.9" fill="#333"/><circle cx="144.55" cy="346.27" r="0.9" fill="#d6492e"/><circle cx="160.03" cy="289.30" r="0.75" fill="#222"/><circle cx="162.80" cy="299.00" r="0.75" fill="#222"/><circle cx="159.35" cy="295.08" r="0.75" fill="#222"/><circle cx="161.91" cy="352.30" r="0.75" fill="#d6492e"/><circle cx="159.49" cy="352.70" r="0.75" fill="#d6492e"/><circle cx="160.84" cy="352.18" r="0.75" fill="#d6492e"/><circle cx="160.88" cy="293.71" r="0.9" fill="#333"/><circle cx="160.88" cy="352.51" r="0.9" fill="#d6492e"/>
<text x="221.60" y="252.50" font-size="7.87" text-anchor="middle" textLength="15.50" lengthAdjust="spacingAndGlyphs">Drug</text>
<text x="221.60" y="260.80" font-size="7.87" text-anchor="middle" textLength="31.01" lengthAdjust="spacingAndGlyphs">enhances</text>
<text x="221.60" y="268.80" font-size="7.87" text-anchor="middle" textLength="34.56" lengthAdjust="spacingAndGlyphs">CAR T-cell</text>
<text x="221.60" y="277.10" font-size="7.87" text-anchor="middle" textLength="34.96" lengthAdjust="spacingAndGlyphs">cytotoxicity</text>
<text x="221.60" y="343.50" font-size="7.87" text-anchor="middle" textLength="15.50" lengthAdjust="spacingAndGlyphs">Drug</text>
<text x="221.60" y="351.70" font-size="7.87" text-anchor="middle" textLength="22.26" lengthAdjust="spacingAndGlyphs">inhibits</text>
<text x="221.60" y="360.00" font-size="7.87" text-anchor="middle" textLength="34.56" lengthAdjust="spacingAndGlyphs">CAR T-cell</text>
<text x="221.60" y="368.20" font-size="7.87" text-anchor="middle" textLength="34.96" lengthAdjust="spacingAndGlyphs">cytotoxicity</text>
<line x1="246.2" y1="252" x2="246.2" y2="269.8" stroke="#111" stroke-width="0.7"/><path d="M246.2 247.3 L243.9 253.2 L246.2 252.2 L248.5 253.2 Z" fill="#111"/>
<line x1="246.2" y1="338.3" x2="246.2" y2="356.5" stroke="#111" stroke-width="0.7"/><path d="M246.2 361.5 L243.9 355.6 L246.2 356.6 L248.5 355.6 Z" fill="#111"/>
<text x="260.50" y="365.20" font-size="9.0" textLength="107.00" lengthAdjust="spacingAndGlyphs" transform="rotate(-90 260.50 365.20)">Differential drug sensitivity score</text>
<path d="M285.1 219.5 L285.1 404.3 L507.5 404.3" fill="none" stroke="#111" stroke-width="1.4"/>
<line x1="281.8" y1="235.57" x2="285.1" y2="235.57" stroke="#111" stroke-width="0.9"/>
<text x="278.90" y="238.07" font-size="7.7" text-anchor="end" textLength="7.79" lengthAdjust="spacingAndGlyphs">25</text>
<line x1="281.8" y1="290.90" x2="285.1" y2="290.90" stroke="#111" stroke-width="0.9"/>
<text x="278.90" y="293.40" font-size="7.7" text-anchor="end" textLength="3.89" lengthAdjust="spacingAndGlyphs">0</text>
<line x1="281.8" y1="346.22" x2="285.1" y2="346.22" stroke="#111" stroke-width="0.9"/>
<text x="278.90" y="348.72" font-size="7.7" text-anchor="end" textLength="11.87" lengthAdjust="spacingAndGlyphs">−25</text>
<line x1="281.8" y1="401.55" x2="285.1" y2="401.55" stroke="#111" stroke-width="0.9"/>
<text x="278.90" y="404.05" font-size="7.7" text-anchor="end" textLength="11.87" lengthAdjust="spacingAndGlyphs">−50</text>
<line x1="296.00" y1="404.3" x2="296.00" y2="407.5" stroke="#111" stroke-width="0.9"/>
<text x="296.00" y="416.50" font-size="7.7" text-anchor="middle" textLength="3.89" lengthAdjust="spacingAndGlyphs">0</text>
<line x1="334.50" y1="404.3" x2="334.50" y2="407.5" stroke="#111" stroke-width="0.9"/>
<text x="334.50" y="416.50" font-size="7.7" text-anchor="middle" textLength="11.68" lengthAdjust="spacingAndGlyphs">100</text>
<line x1="373.00" y1="404.3" x2="373.00" y2="407.5" stroke="#111" stroke-width="0.9"/>
<text x="373.00" y="416.50" font-size="7.7" text-anchor="middle" textLength="11.68" lengthAdjust="spacingAndGlyphs">200</text>
<line x1="411.50" y1="404.3" x2="411.50" y2="407.5" stroke="#111" stroke-width="0.9"/>
<text x="411.50" y="416.50" font-size="7.7" text-anchor="middle" textLength="11.68" lengthAdjust="spacingAndGlyphs">300</text>
<line x1="450.00" y1="404.3" x2="450.00" y2="407.5" stroke="#111" stroke-width="0.9"/>
<text x="450.00" y="416.50" font-size="7.7" text-anchor="middle" textLength="11.68" lengthAdjust="spacingAndGlyphs">400</text>
<line x1="488.50" y1="404.3" x2="488.50" y2="407.5" stroke="#111" stroke-width="0.9"/>
<text x="488.50" y="416.50" font-size="7.7" text-anchor="middle" textLength="11.68" lengthAdjust="spacingAndGlyphs">500</text>
<text x="378.60" y="429.60" font-size="9.0" textLength="36.40" lengthAdjust="spacingAndGlyphs">Compound</text>
<g fill="#6a6a6a"><circle cx="318.73" cy="264.46" r="0.95"/><circle cx="338.01" cy="265.26" r="0.95"/><circle cx="305.56" cy="270.08" r="0.95"/><circle cx="331.59" cy="268.80" r="0.95"/><circle cx="336.08" cy="270.88" r="0.95"/><circle cx="336.73" cy="271.69" r="0.95"/><circle cx="341.22" cy="272.97" r="0.95"/><circle cx="344.76" cy="272.01" r="0.95"/><circle cx="316.65" cy="272.97" r="0.95"/><circle cx="337.21" cy="275.22" r="0.95"/><circle cx="304.60" cy="276.51" r="0.95"/><circle cx="311.99" cy="277.79" r="0.95"/><circle cx="357.29" cy="276.51" r="0.95"/><circle cx="340.10" cy="278.43" r="0.95"/><circle cx="311.51" cy="280.52" r="0.95"/><circle cx="328.86" cy="281.00" r="0.95"/><circle cx="358.90" cy="281.65" r="0.95"/><circle cx="318.41" cy="281.65" r="0.95"/><circle cx="335.60" cy="283.41" r="0.95"/><circle cx="319.54" cy="285.02" r="0.95"/><circle cx="329.66" cy="285.02" r="0.95"/><circle cx="341.55" cy="285.02" r="0.95"/><circle cx="332.87" cy="287.43" r="0.95"/><circle cx="334.00" cy="287.91" r="0.95"/><circle cx="309.10" cy="286.63" r="0.95"/><circle cx="358.09" cy="287.75" r="0.95"/><circle cx="348.94" cy="287.43" r="0.95"/><circle cx="307.49" cy="289.04" r="0.95"/><circle cx="304.60" cy="290.16" r="0.95"/><circle cx="305.88" cy="290.64" r="0.95"/><circle cx="310.70" cy="291.29" r="0.95"/><circle cx="313.92" cy="290.48" r="0.95"/><circle cx="314.72" cy="291.45" r="0.95"/><circle cx="317.93" cy="291.45" r="0.95"/><circle cx="319.54" cy="291.45" r="0.95"/><circle cx="327.09" cy="292.09" r="0.95"/><circle cx="329.18" cy="291.45" r="0.95"/><circle cx="332.39" cy="292.09" r="0.95"/><circle cx="334.00" cy="292.09" r="0.95"/><circle cx="336.41" cy="291.77" r="0.95"/><circle cx="338.01" cy="292.25" r="0.95"/><circle cx="340.42" cy="291.45" r="0.95"/><circle cx="342.83" cy="291.45" r="0.95"/><circle cx="346.04" cy="291.45" r="0.95"/><circle cx="348.45" cy="291.45" r="0.95"/><circle cx="352.47" cy="291.45" r="0.95"/><circle cx="354.88" cy="291.45" r="0.95"/><circle cx="355.36" cy="289.84" r="0.95"/><circle cx="301.87" cy="292.57" r="0.95"/><circle cx="297.05" cy="295.46" r="0.95"/><circle cx="300.74" cy="295.46" r="0.95"/><circle cx="301.55" cy="296.59" r="0.95"/><circle cx="303.15" cy="294.18" r="0.95"/><circle cx="307.49" cy="294.50" r="0.95"/><circle cx="314.72" cy="294.98" r="0.95"/><circle cx="321.95" cy="294.98" r="0.95"/><circle cx="323.55" cy="295.46" r="0.95"/><circle cx="327.57" cy="296.59" r="0.95"/><circle cx="338.01" cy="296.10" r="0.95"/><circle cx="341.22" cy="294.66" r="0.95"/><circle cx="358.09" cy="297.71" r="0.95"/><circle cx="296.24" cy="301.73" r="0.95"/><circle cx="297.85" cy="303.01" r="0.95"/><circle cx="304.28" cy="303.82" r="0.95"/><circle cx="309.10" cy="300.60" r="0.95"/><circle cx="315.52" cy="298.51" r="0.95"/><circle cx="317.93" cy="300.28" r="0.95"/><circle cx="321.95" cy="302.21" r="0.95"/><circle cx="325.16" cy="301.08" r="0.95"/><circle cx="325.96" cy="301.73" r="0.95"/><circle cx="329.98" cy="301.08" r="0.95"/><circle cx="334.00" cy="301.73" r="0.95"/><circle cx="336.08" cy="301.08" r="0.95"/><circle cx="338.82" cy="299.00" r="0.95"/><circle cx="328.37" cy="304.62" r="0.95"/><circle cx="324.84" cy="305.42" r="0.95"/><circle cx="330.78" cy="306.22" r="0.95"/><circle cx="350.86" cy="298.19" r="0.95"/><circle cx="349.26" cy="303.01" r="0.95"/><circle cx="351.35" cy="302.69" r="0.95"/><circle cx="352.47" cy="304.62" r="0.95"/><circle cx="358.90" cy="302.21" r="0.95"/><circle cx="297.53" cy="307.03" r="0.95"/><circle cx="309.10" cy="305.90" r="0.95"/><circle cx="316.81" cy="307.35" r="0.95"/><circle cx="331.59" cy="310.56" r="0.95"/><circle cx="344.12" cy="309.76" r="0.95"/><circle cx="346.53" cy="310.56" r="0.95"/><circle cx="348.13" cy="308.15" r="0.95"/><circle cx="350.06" cy="307.51" r="0.95"/><circle cx="353.27" cy="306.22" r="0.95"/><circle cx="357.29" cy="306.71" r="0.95"/><circle cx="299.78" cy="311.53" r="0.95"/><circle cx="302.67" cy="314.74" r="0.95"/><circle cx="301.87" cy="315.86" r="0.95"/><circle cx="311.51" cy="315.38" r="0.95"/><circle cx="312.63" cy="310.72" r="0.95"/><circle cx="316.00" cy="313.45" r="0.95"/><circle cx="322.75" cy="316.67" r="0.95"/><circle cx="323.55" cy="315.54" r="0.95"/><circle cx="327.09" cy="311.85" r="0.95"/><circle cx="320.82" cy="318.27" r="0.95"/><circle cx="321.95" cy="319.40" r="0.95"/><circle cx="315.52" cy="320.68" r="0.95"/><circle cx="314.40" cy="323.09" r="0.95"/><circle cx="313.43" cy="325.50" r="0.95"/><circle cx="324.84" cy="322.77" r="0.95"/><circle cx="331.27" cy="323.90" r="0.95"/><circle cx="345.72" cy="314.26" r="0.95"/><circle cx="346.85" cy="316.35" r="0.95"/><circle cx="345.24" cy="317.95" r="0.95"/><circle cx="350.86" cy="313.45" r="0.95"/><circle cx="350.06" cy="320.68" r="0.95"/><circle cx="354.08" cy="316.35" r="0.95"/><circle cx="343.15" cy="320.68" r="0.95"/><circle cx="343.31" cy="324.70" r="0.95"/><circle cx="344.76" cy="326.79" r="0.95"/><circle cx="347.65" cy="329.52" r="0.95"/><circle cx="295.76" cy="317.79" r="0.95"/><circle cx="302.67" cy="324.70" r="0.95"/><circle cx="299.46" cy="328.39" r="0.95"/><circle cx="325.96" cy="327.11" r="0.95"/><circle cx="328.05" cy="329.52" r="0.95"/><circle cx="306.69" cy="329.20" r="0.95"/><circle cx="306.69" cy="334.34" r="0.95"/><circle cx="309.90" cy="333.86" r="0.95"/><circle cx="295.92" cy="332.41" r="0.95"/><circle cx="298.65" cy="335.46" r="0.95"/><circle cx="295.44" cy="341.08" r="0.95"/><circle cx="310.70" cy="343.17" r="0.95"/><circle cx="354.88" cy="333.86" r="0.95"/><circle cx="358.90" cy="333.05" r="0.95"/><circle cx="313.11" cy="352.81" r="0.95"/><circle cx="362.89" cy="259.16" r="0.95"/><circle cx="388.59" cy="260.12" r="0.95"/><circle cx="366.43" cy="264.46" r="0.95"/><circle cx="367.23" cy="265.26" r="0.95"/><circle cx="411.73" cy="263.17" r="0.95"/><circle cx="370.12" cy="269.60" r="0.95"/><circle cx="381.69" cy="268.47" r="0.95"/><circle cx="386.99" cy="267.67" r="0.95"/><circle cx="393.73" cy="269.28" r="0.95"/><circle cx="396.63" cy="271.37" r="0.95"/><circle cx="404.98" cy="269.28" r="0.95"/><circle cx="406.59" cy="268.15" r="0.95"/><circle cx="419.44" cy="268.47" r="0.95"/><circle cx="390.84" cy="274.58" r="0.95"/><circle cx="392.13" cy="273.78" r="0.95"/><circle cx="398.23" cy="274.10" r="0.95"/><circle cx="382.01" cy="272.49" r="0.95"/><circle cx="381.37" cy="275.38" r="0.95"/><circle cx="418.63" cy="273.78" r="0.95"/><circle cx="420.72" cy="274.58" r="0.95"/><circle cx="421.04" cy="276.99" r="0.95"/><circle cx="387.79" cy="280.52" r="0.95"/><circle cx="395.34" cy="280.52" r="0.95"/><circle cx="430.68" cy="280.04" r="0.95"/><circle cx="431.49" cy="284.54" r="0.95"/><circle cx="437.91" cy="284.54" r="0.95"/><circle cx="413.49" cy="282.13" r="0.95"/><circle cx="411.08" cy="286.14" r="0.95"/><circle cx="413.82" cy="286.14" r="0.95"/><circle cx="409.80" cy="288.23" r="0.95"/><circle cx="412.21" cy="288.55" r="0.95"/><circle cx="417.83" cy="287.43" r="0.95"/><circle cx="405.78" cy="287.75" r="0.95"/><circle cx="407.39" cy="291.45" r="0.95"/><circle cx="409.80" cy="292.57" r="0.95"/><circle cx="415.42" cy="293.86" r="0.95"/><circle cx="419.44" cy="292.57" r="0.95"/><circle cx="360.00" cy="286.63" r="0.95"/><circle cx="367.71" cy="289.84" r="0.95"/><circle cx="368.84" cy="290.96" r="0.95"/><circle cx="370.44" cy="290.16" r="0.95"/><circle cx="372.05" cy="289.36" r="0.95"/><circle cx="374.46" cy="287.75" r="0.95"/><circle cx="375.26" cy="288.55" r="0.95"/><circle cx="379.28" cy="287.75" r="0.95"/><circle cx="382.49" cy="286.63" r="0.95"/><circle cx="385.70" cy="287.27" r="0.95"/><circle cx="386.99" cy="288.23" r="0.95"/><circle cx="388.59" cy="289.36" r="0.95"/><circle cx="389.72" cy="290.16" r="0.95"/><circle cx="391.33" cy="288.55" r="0.95"/><circle cx="392.93" cy="286.95" r="0.95"/><circle cx="394.06" cy="285.66" r="0.95"/><circle cx="395.02" cy="285.02" r="0.95"/><circle cx="380.08" cy="290.16" r="0.95"/><circle cx="376.87" cy="290.96" r="0.95"/><circle cx="380.88" cy="293.37" r="0.95"/><circle cx="382.97" cy="292.57" r="0.95"/><circle cx="384.90" cy="294.98" r="0.95"/><circle cx="385.70" cy="294.18" r="0.95"/><circle cx="391.33" cy="294.18" r="0.95"/><circle cx="394.54" cy="291.45" r="0.95"/><circle cx="396.14" cy="294.18" r="0.95"/><circle cx="398.55" cy="295.78" r="0.95"/><circle cx="400.16" cy="291.77" r="0.95"/><circle cx="364.82" cy="291.45" r="0.95"/><circle cx="362.41" cy="294.98" r="0.95"/><circle cx="372.85" cy="294.18" r="0.95"/><circle cx="374.46" cy="297.39" r="0.95"/><circle cx="376.87" cy="295.78" r="0.95"/><circle cx="379.28" cy="297.39" r="0.95"/><circle cx="380.88" cy="298.19" r="0.95"/><circle cx="384.10" cy="299.80" r="0.95"/><circle cx="384.90" cy="303.01" r="0.95"/><circle cx="364.82" cy="298.19" r="0.95"/><circle cx="363.21" cy="299.80" r="0.95"/><circle cx="369.64" cy="300.60" r="0.95"/><circle cx="392.13" cy="296.59" r="0.95"/><circle cx="397.75" cy="299.00" r="0.95"/><circle cx="399.36" cy="300.60" r="0.95"/><circle cx="396.95" cy="302.21" r="0.95"/><circle cx="400.16" cy="303.01" r="0.95"/><circle cx="404.18" cy="303.01" r="0.95"/><circle cx="406.59" cy="301.41" r="0.95"/><circle cx="409.00" cy="299.80" r="0.95"/><circle cx="413.01" cy="297.39" r="0.95"/><circle cx="417.03" cy="299.00" r="0.95"/><circle cx="416.22" cy="301.41" r="0.95"/><circle cx="421.04" cy="298.19" r="0.95"/><circle cx="423.45" cy="304.62" r="0.95"/><circle cx="421.85" cy="303.01" r="0.95"/><circle cx="420.24" cy="304.30" r="0.95"/><circle cx="425.86" cy="302.21" r="0.95"/><circle cx="428.27" cy="303.01" r="0.95"/><circle cx="427.47" cy="307.03" r="0.95"/><circle cx="430.68" cy="299.00" r="0.95"/><circle cx="435.50" cy="291.77" r="0.95"/><circle cx="433.90" cy="293.37" r="0.95"/><circle cx="432.29" cy="293.37" r="0.95"/><circle cx="436.79" cy="290.96" r="0.95"/><circle cx="439.52" cy="290.96" r="0.95"/><circle cx="437.11" cy="299.00" r="0.95"/><circle cx="371.24" cy="306.22" r="0.95"/><circle cx="376.06" cy="305.42" r="0.95"/><circle cx="377.67" cy="307.51" r="0.95"/><circle cx="378.96" cy="309.76" r="0.95"/><circle cx="375.26" cy="309.12" r="0.95"/><circle cx="367.23" cy="309.44" r="0.95"/><circle cx="365.62" cy="307.83" r="0.95"/><circle cx="362.41" cy="312.65" r="0.95"/><circle cx="363.21" cy="314.26" r="0.95"/><circle cx="368.84" cy="311.85" r="0.95"/><circle cx="389.72" cy="307.03" r="0.95"/><circle cx="397.75" cy="311.04" r="0.95"/><circle cx="401.77" cy="310.24" r="0.95"/><circle cx="403.37" cy="306.22" r="0.95"/><circle cx="407.39" cy="307.83" r="0.95"/><circle cx="426.67" cy="307.03" r="0.95"/><circle cx="425.86" cy="306.22" r="0.95"/><circle cx="415.42" cy="312.97" r="0.95"/><circle cx="417.03" cy="316.67" r="0.95"/><circle cx="418.63" cy="318.27" r="0.95"/><circle cx="408.19" cy="316.67" r="0.95"/><circle cx="409.00" cy="316.67" r="0.95"/><circle cx="402.57" cy="313.45" r="0.95"/><circle cx="402.57" cy="318.27" r="0.95"/><circle cx="403.05" cy="321.16" r="0.95"/><circle cx="411.41" cy="322.29" r="0.95"/><circle cx="423.94" cy="318.27" r="0.95"/><circle cx="427.47" cy="315.06" r="0.95"/><circle cx="430.68" cy="312.65" r="0.95"/><circle cx="433.09" cy="310.24" r="0.95"/><circle cx="435.50" cy="319.88" r="0.95"/><circle cx="438.71" cy="312.65" r="0.95"/><circle cx="361.61" cy="325.98" r="0.95"/><circle cx="364.02" cy="323.90" r="0.95"/><circle cx="362.41" cy="318.27" r="0.95"/><circle cx="372.85" cy="317.47" r="0.95"/><circle cx="373.65" cy="315.86" r="0.95"/><circle cx="398.55" cy="328.71" r="0.95"/><circle cx="399.36" cy="327.91" r="0.95"/><circle cx="423.45" cy="326.31" r="0.95"/><circle cx="425.06" cy="328.39" r="0.95"/><circle cx="425.06" cy="333.53" r="0.95"/><circle cx="415.42" cy="325.50" r="0.95"/><circle cx="412.69" cy="331.12" r="0.95"/><circle cx="414.62" cy="333.53" r="0.95"/><circle cx="368.03" cy="332.73" r="0.95"/><circle cx="375.74" cy="332.73" r="0.95"/><circle cx="396.63" cy="340.28" r="0.95"/><circle cx="400.96" cy="341.57" r="0.95"/><circle cx="403.37" cy="342.85" r="0.95"/><circle cx="404.66" cy="344.78" r="0.95"/><circle cx="409.00" cy="342.69" r="0.95"/><circle cx="429.40" cy="341.57" r="0.95"/><circle cx="439.52" cy="339.16" r="0.95"/><circle cx="390.52" cy="348.31" r="0.95"/><circle cx="402.09" cy="349.92" r="0.95"/><circle cx="405.78" cy="356.02" r="0.95"/><circle cx="430.68" cy="356.35" r="0.95"/><circle cx="433.90" cy="356.83" r="0.95"/><circle cx="434.70" cy="359.24" r="0.95"/><circle cx="438.71" cy="346.39" r="0.95"/><circle cx="438.71" cy="349.60" r="0.95"/><circle cx="447.05" cy="268.80" r="0.95"/><circle cx="470.02" cy="270.40" r="0.95"/><circle cx="445.92" cy="276.99" r="0.95"/><circle cx="460.70" cy="278.59" r="0.95"/><circle cx="463.11" cy="279.40" r="0.95"/><circle cx="486.73" cy="280.04" r="0.95"/><circle cx="457.97" cy="282.93" r="0.95"/><circle cx="459.10" cy="284.54" r="0.95"/><circle cx="463.92" cy="288.23" r="0.95"/><circle cx="465.52" cy="290.96" r="0.95"/><circle cx="466.33" cy="292.09" r="0.95"/><circle cx="470.02" cy="291.77" r="0.95"/><circle cx="473.55" cy="291.45" r="0.95"/><circle cx="471.95" cy="296.91" r="0.95"/><circle cx="475.16" cy="294.98" r="0.95"/><circle cx="481.91" cy="293.37" r="0.95"/><circle cx="482.39" cy="296.59" r="0.95"/><circle cx="485.60" cy="290.96" r="0.95"/><circle cx="486.41" cy="287.75" r="0.95"/><circle cx="490.42" cy="288.23" r="0.95"/><circle cx="495.24" cy="286.95" r="0.95"/><circle cx="494.44" cy="290.96" r="0.95"/><circle cx="496.04" cy="292.09" r="0.95"/><circle cx="491.22" cy="296.91" r="0.95"/><circle cx="492.03" cy="301.41" r="0.95"/><circle cx="492.83" cy="303.01" r="0.95"/><circle cx="496.85" cy="304.62" r="0.95"/><circle cx="497.65" cy="307.03" r="0.95"/><circle cx="488.82" cy="307.83" r="0.95"/><circle cx="440.62" cy="291.45" r="0.95"/><circle cx="442.23" cy="291.45" r="0.95"/><circle cx="443.84" cy="291.45" r="0.95"/><circle cx="445.44" cy="291.45" r="0.95"/><circle cx="447.05" cy="291.45" r="0.95"/><circle cx="443.84" cy="297.39" r="0.95"/><circle cx="441.43" cy="302.21" r="0.95"/><circle cx="453.47" cy="301.41" r="0.95"/><circle cx="455.08" cy="297.39" r="0.95"/><circle cx="456.69" cy="294.98" r="0.95"/><circle cx="459.10" cy="303.01" r="0.95"/><circle cx="463.11" cy="298.19" r="0.95"/><circle cx="464.72" cy="299.80" r="0.95"/><circle cx="467.93" cy="304.62" r="0.95"/><circle cx="468.73" cy="303.82" r="0.95"/><circle cx="474.36" cy="304.62" r="0.95"/><circle cx="475.16" cy="300.60" r="0.95"/><circle cx="451.06" cy="305.42" r="0.95"/><circle cx="451.87" cy="307.03" r="0.95"/><circle cx="453.47" cy="310.24" r="0.95"/><circle cx="448.65" cy="311.85" r="0.95"/><circle cx="450.26" cy="315.86" r="0.95"/><circle cx="460.70" cy="313.45" r="0.95"/><circle cx="459.90" cy="315.86" r="0.95"/><circle cx="467.13" cy="315.06" r="0.95"/><circle cx="477.57" cy="310.24" r="0.95"/><circle cx="479.18" cy="311.85" r="0.95"/><circle cx="476.77" cy="318.27" r="0.95"/><circle cx="478.37" cy="320.68" r="0.95"/><circle cx="471.95" cy="317.47" r="0.95"/><circle cx="474.36" cy="321.49" r="0.95"/><circle cx="483.19" cy="321.49" r="0.95"/><circle cx="488.01" cy="320.68" r="0.95"/><circle cx="492.03" cy="320.68" r="0.95"/><circle cx="494.44" cy="321.49" r="0.95"/><circle cx="496.85" cy="321.49" r="0.95"/><circle cx="480.78" cy="317.47" r="0.95"/><circle cx="466.33" cy="308.63" r="0.95"/><circle cx="455.88" cy="320.68" r="0.95"/><circle cx="457.49" cy="320.68" r="0.95"/><circle cx="452.67" cy="322.29" r="0.95"/><circle cx="453.47" cy="327.11" r="0.95"/><circle cx="462.31" cy="322.29" r="0.95"/><circle cx="463.92" cy="325.50" r="0.95"/><circle cx="468.73" cy="324.22" r="0.95"/><circle cx="473.55" cy="323.90" r="0.95"/><circle cx="477.57" cy="327.11" r="0.95"/><circle cx="444.64" cy="322.29" r="0.95"/><circle cx="472.75" cy="333.53" r="0.95"/><circle cx="448.65" cy="333.53" r="0.95"/><circle cx="484.00" cy="331.93" r="0.95"/><circle cx="486.41" cy="332.73" r="0.95"/><circle cx="488.82" cy="332.73" r="0.95"/><circle cx="490.42" cy="331.93" r="0.95"/><circle cx="496.85" cy="331.12" r="0.95"/><circle cx="479.98" cy="331.12" r="0.95"/><circle cx="484.80" cy="336.75" r="0.95"/><circle cx="487.21" cy="336.75" r="0.95"/><circle cx="489.62" cy="335.94" r="0.95"/><circle cx="443.03" cy="335.94" r="0.95"/><circle cx="442.23" cy="339.16" r="0.95"/><circle cx="449.46" cy="343.98" r="0.95"/><circle cx="461.51" cy="342.37" r="0.95"/><circle cx="463.92" cy="346.06" r="0.95"/><circle cx="479.18" cy="340.44" r="0.95"/><circle cx="497.65" cy="344.46" r="0.95"/><circle cx="450.26" cy="356.02" r="0.95"/><circle cx="457.49" cy="353.61" r="0.95"/></g>
<line x1="353.0" y1="224.2" x2="357.4" y2="226.4" stroke="#222" stroke-width="0.75"/>
<line x1="369.8" y1="235.2" x2="376.8" y2="240.2" stroke="#222" stroke-width="0.75"/>
<line x1="356.8" y1="243.8" x2="350.2" y2="248.0" stroke="#222" stroke-width="0.75"/>
<line x1="466.0" y1="249.0" x2="470.0" y2="244.2" stroke="#222" stroke-width="0.75"/>
<line x1="353.8" y1="398.4" x2="358.7" y2="396.7" stroke="#222" stroke-width="0.75"/>
<line x1="404.0" y1="398.9" x2="409.2" y2="392.9" stroke="#222" stroke-width="0.75"/>
<line x1="415.0" y1="375.6" x2="419.6" y2="374.2" stroke="#222" stroke-width="0.75"/>
<line x1="447.3" y1="363.5" x2="451.5" y2="366.5" stroke="#222" stroke-width="0.75"/>
<line x1="446.7" y1="381.3" x2="454.4" y2="376.5" stroke="#222" stroke-width="0.75"/>
<line x1="466.9" y1="352.5" x2="464.6" y2="366.9" stroke="#222" stroke-width="0.75"/>
<line x1="476.2" y1="347.3" x2="470.8" y2="362.1" stroke="#222" stroke-width="0.75"/>
<line x1="489.0" y1="358.8" x2="491.9" y2="361.5" stroke="#222" stroke-width="0.75"/>
<line x1="486.5" y1="369.8" x2="489.0" y2="373.7" stroke="#222" stroke-width="0.75"/>
<line x1="465.4" y1="381.3" x2="469.2" y2="375.2" stroke="#222" stroke-width="0.75"/>
<line x1="478.5" y1="374.6" x2="482.3" y2="381.3" stroke="#222" stroke-width="0.75"/>
<line x1="452.1" y1="397.7" x2="457.3" y2="394.8" stroke="#222" stroke-width="0.75"/>
<circle cx="360.0" cy="227.6" r="2.75" fill="#d9553a" stroke="#1a1a1a" stroke-width="0.75"/>
<circle cx="366.6" cy="233.2" r="2.75" fill="#d9553a" stroke="#1a1a1a" stroke-width="0.75"/>
<circle cx="359.7" cy="241.2" r="2.75" fill="#d9553a" stroke="#1a1a1a" stroke-width="0.75"/>
<circle cx="461.9" cy="251.6" r="2.75" fill="#d9553a" stroke="#1a1a1a" stroke-width="0.75"/>
<circle cx="301.1" cy="363.6" r="2.75" fill="#3f8fcf" stroke="#1a1a1a" stroke-width="0.75"/>
<circle cx="300.6" cy="380.5" r="2.75" fill="#3f8fcf" stroke="#1a1a1a" stroke-width="0.75"/>
<circle cx="361.3" cy="396.0" r="2.75" fill="#3f8fcf" stroke="#1a1a1a" stroke-width="0.75"/>
<circle cx="411.5" cy="390.3" r="2.75" fill="#3f8fcf" stroke="#1a1a1a" stroke-width="0.75"/>
<circle cx="422.7" cy="373.3" r="2.75" fill="#3f8fcf" stroke="#1a1a1a" stroke-width="0.75"/>
<circle cx="454.4" cy="367.9" r="2.75" fill="#3f8fcf" stroke="#1a1a1a" stroke-width="0.75"/>
<circle cx="458.8" cy="374.6" r="2.75" fill="#3f8fcf" stroke="#1a1a1a" stroke-width="0.75"/>
<circle cx="469.4" cy="364.0" r="2.75" fill="#3f8fcf" stroke="#1a1a1a" stroke-width="0.75"/>
<circle cx="493.3" cy="364.6" r="2.75" fill="#3f8fcf" stroke="#1a1a1a" stroke-width="0.75"/>
<circle cx="485.8" cy="366.0" r="2.75" fill="#3f8fcf" stroke="#1a1a1a" stroke-width="0.75"/>
<circle cx="467.9" cy="370.8" r="2.75" fill="#3f8fcf" stroke="#1a1a1a" stroke-width="0.75"/>
<circle cx="472.1" cy="373.7" r="2.75" fill="#3f8fcf" stroke="#1a1a1a" stroke-width="0.75"/>
<circle cx="476.2" cy="374.6" r="2.75" fill="#3f8fcf" stroke="#1a1a1a" stroke-width="0.75"/>
<circle cx="460.2" cy="392.3" r="2.75" fill="#3f8fcf" stroke="#1a1a1a" stroke-width="0.75"/>
<circle cx="479.0" cy="394.8" r="2.75" fill="#3f8fcf" stroke="#1a1a1a" stroke-width="0.75"/>
<text x="350.80" y="226.50" font-size="6.44" text-anchor="end" textLength="26.34" lengthAdjust="spacingAndGlyphs">Birinapant</text>
<text x="371.50" y="245.80" font-size="6.44" textLength="20.65" lengthAdjust="spacingAndGlyphs">AT−406</text>
<text x="354.20" y="255.00" font-size="6.44" text-anchor="end" textLength="20.49" lengthAdjust="spacingAndGlyphs">LCL161</text>
<text x="457.90" y="243.20" font-size="6.44" textLength="30.89" lengthAdjust="spacingAndGlyphs">Bryostatin 1</text>
<text x="310.20" y="366.00" font-size="6.44" textLength="29.93" lengthAdjust="spacingAndGlyphs">LY3009120</text>
<text x="309.70" y="382.90" font-size="6.44" textLength="31.22" lengthAdjust="spacingAndGlyphs">Cerdulatinib</text>
<text x="350.80" y="401.90" font-size="6.44" text-anchor="end" textLength="30.08" lengthAdjust="spacingAndGlyphs">CUDC−907</text>
<text x="402.30" y="402.00" font-size="6.44" text-anchor="end" textLength="28.60" lengthAdjust="spacingAndGlyphs">Tacrolimus</text>
<text x="414.00" y="377.60" font-size="6.44" text-anchor="end" textLength="23.73" lengthAdjust="spacingAndGlyphs">Duvelisib</text>
<text x="445.50" y="364.60" font-size="6.44" text-anchor="end" textLength="24.55" lengthAdjust="spacingAndGlyphs">TAK−733</text>
<text x="445.70" y="385.20" font-size="6.44" text-anchor="end" textLength="30.24" lengthAdjust="spacingAndGlyphs">Lestaurtinib</text>
<text x="437.80" y="352.20" font-size="6.44" textLength="31.54" lengthAdjust="spacingAndGlyphs">Sotrastaurin</text>
<text x="470.80" y="346.40" font-size="6.44" textLength="18.86" lengthAdjust="spacingAndGlyphs">Axitinib</text>
<text x="471.70" y="355.40" font-size="6.44" textLength="31.22" lengthAdjust="spacingAndGlyphs">Refametinib</text>
<text x="484.70" y="378.00" font-size="6.44" textLength="27.63" lengthAdjust="spacingAndGlyphs">Pimasertib</text>
<text x="450.90" y="386.50" font-size="6.44" textLength="24.39" lengthAdjust="spacingAndGlyphs">Dasatinib</text>
<text x="481.00" y="386.50" font-size="6.44" textLength="26.99" lengthAdjust="spacingAndGlyphs">Ruxolitinib</text>
<text x="451.00" y="402.00" font-size="6.44" text-anchor="end" textLength="28.13" lengthAdjust="spacingAndGlyphs">AZD−8330</text>
<text x="480.80" y="402.20" font-size="6.44" textLength="22.76" lengthAdjust="spacingAndGlyphs">Idelalisib</text>
<rect x="173.8" y="475.8" width="70" height="138.8" fill="#e4e4e4"/>
<text x="47.70" y="471.90" font-size="9.47" textLength="146.10" lengthAdjust="spacingAndGlyphs">Inhibitors of CAR T-cell cytotoxicity</text>
<rect x="71.95" y="478.75" width="100.25" height="5.5" fill="#521555"/>
<line x1="63.0" y1="481.50" x2="66.6" y2="481.50" stroke="#111" stroke-width="0.9"/>
<text x="59.50" y="483.50" font-size="7.7" text-anchor="end" textLength="35.99" lengthAdjust="spacingAndGlyphs">CUDC−907</text>
<text x="175.80" y="483.50" font-size="7.81" textLength="64.32" lengthAdjust="spacingAndGlyphs">HDAC/PI3K inhibitor</text>
<rect x="73.43" y="485.56" width="98.77" height="5.5" fill="#4b2d80"/>
<line x1="63.0" y1="488.31" x2="66.6" y2="488.31" stroke="#111" stroke-width="0.9"/>
<text x="59.50" y="490.31" font-size="7.7" text-anchor="end" textLength="27.24" lengthAdjust="spacingAndGlyphs">Idelalisib</text>
<text x="175.80" y="490.31" font-size="7.81" textLength="42.23" lengthAdjust="spacingAndGlyphs">PI3K inhibitor</text>
<rect x="74.91" y="492.37" width="97.29" height="5.5" fill="#1b5b8c"/>
<line x1="63.0" y1="495.12" x2="66.6" y2="495.12" stroke="#111" stroke-width="0.9"/>
<text x="59.50" y="497.12" font-size="7.7" text-anchor="end" textLength="33.66" lengthAdjust="spacingAndGlyphs">AZD−8330</text>
<text x="175.80" y="497.12" font-size="7.81" textLength="46.96" lengthAdjust="spacingAndGlyphs">MAPK inhibitor</text>
<rect x="77.87" y="499.18" width="94.33" height="5.5" fill="#0d8390"/>
<line x1="63.0" y1="501.93" x2="66.6" y2="501.93" stroke="#111" stroke-width="0.9"/>
<text x="59.50" y="503.93" font-size="7.7" text-anchor="end" textLength="34.23" lengthAdjust="spacingAndGlyphs">Tacrolimus</text>
<text x="175.80" y="503.93" font-size="7.81" textLength="62.35" lengthAdjust="spacingAndGlyphs">Calcineurin inhibitor</text>
<rect x="87.60" y="505.99" width="84.60" height="5.5" fill="#17977f"/>
<line x1="63.0" y1="508.74" x2="66.6" y2="508.74" stroke="#111" stroke-width="0.9"/>
<text x="59.50" y="510.74" font-size="7.7" text-anchor="end" textLength="37.35" lengthAdjust="spacingAndGlyphs">Cerdulatinib</text>
<text x="175.80" y="510.74" font-size="7.81" textLength="56.04" lengthAdjust="spacingAndGlyphs">JAK/SYK inhibitor</text>
<rect x="92.25" y="512.80" width="79.95" height="5.5" fill="#17977f"/>
<line x1="63.0" y1="515.55" x2="66.6" y2="515.55" stroke="#111" stroke-width="0.9"/>
<text x="59.50" y="517.55" font-size="7.7" text-anchor="end" textLength="36.19" lengthAdjust="spacingAndGlyphs">Lestaurtinib</text>
<text x="175.80" y="517.55" font-size="7.81" textLength="39.86" lengthAdjust="spacingAndGlyphs">JAK inhibitor</text>
<rect x="92.89" y="519.61" width="79.31" height="5.5" fill="#17977f"/>
<line x1="63.0" y1="522.36" x2="66.6" y2="522.36" stroke="#111" stroke-width="0.9"/>
<text x="59.50" y="524.36" font-size="7.7" text-anchor="end" textLength="32.29" lengthAdjust="spacingAndGlyphs">Ruxolitinib</text>
<text x="175.80" y="524.36" font-size="7.81" textLength="39.86" lengthAdjust="spacingAndGlyphs">JAK inhibitor</text>
<rect x="93.94" y="526.42" width="78.26" height="5.5" fill="#25904e"/>
<line x1="63.0" y1="529.17" x2="66.6" y2="529.17" stroke="#111" stroke-width="0.9"/>
<text x="59.50" y="531.17" font-size="7.7" text-anchor="end" textLength="29.18" lengthAdjust="spacingAndGlyphs">Dasatinib</text>
<text x="175.80" y="531.17" font-size="7.81" textLength="43.80" lengthAdjust="spacingAndGlyphs">Src/broad TKI</text>
<rect x="94.37" y="533.23" width="77.83" height="5.5" fill="#4b2d80"/>
<line x1="63.0" y1="535.98" x2="66.6" y2="535.98" stroke="#111" stroke-width="0.9"/>
<text x="59.50" y="537.98" font-size="7.7" text-anchor="end" textLength="28.40" lengthAdjust="spacingAndGlyphs">Duvelisib</text>
<text x="175.80" y="537.98" font-size="7.81" textLength="42.23" lengthAdjust="spacingAndGlyphs">PI3K inhibitor</text>
<rect x="96.06" y="540.04" width="76.14" height="5.5" fill="#7fb040"/>
<line x1="63.0" y1="542.79" x2="66.6" y2="542.79" stroke="#111" stroke-width="0.9"/>
<text x="59.50" y="544.79" font-size="7.7" text-anchor="end" textLength="37.74" lengthAdjust="spacingAndGlyphs">Sotrastaurin</text>
<text x="175.80" y="544.79" font-size="7.81" textLength="41.44" lengthAdjust="spacingAndGlyphs">PKC inhibitor</text>
<rect x="99.23" y="546.85" width="72.97" height="5.5" fill="#1b5b8c"/>
<line x1="63.0" y1="549.60" x2="66.6" y2="549.60" stroke="#111" stroke-width="0.9"/>
<text x="59.50" y="551.60" font-size="7.7" text-anchor="end" textLength="29.38" lengthAdjust="spacingAndGlyphs">TAK−733</text>
<text x="175.80" y="551.60" font-size="7.81" textLength="46.96" lengthAdjust="spacingAndGlyphs">MAPK inhibitor</text>
<rect x="100.92" y="553.66" width="71.28" height="5.5" fill="#1b5b8c"/>
<line x1="63.0" y1="556.41" x2="66.6" y2="556.41" stroke="#111" stroke-width="0.9"/>
<text x="59.50" y="558.41" font-size="7.7" text-anchor="end" textLength="33.07" lengthAdjust="spacingAndGlyphs">Pimasertib</text>
<text x="175.80" y="558.41" font-size="7.81" textLength="46.96" lengthAdjust="spacingAndGlyphs">MAPK inhibitor</text>
<rect x="101.77" y="560.47" width="70.43" height="5.5" fill="#1b5b8c"/>
<line x1="63.0" y1="563.22" x2="66.6" y2="563.22" stroke="#111" stroke-width="0.9"/>
<text x="59.50" y="565.22" font-size="7.7" text-anchor="end" textLength="37.35" lengthAdjust="spacingAndGlyphs">Refametinib</text>
<text x="175.80" y="565.22" font-size="7.81" textLength="46.96" lengthAdjust="spacingAndGlyphs">MAPK inhibitor</text>
<rect x="102.40" y="567.28" width="69.80" height="5.5" fill="#25904e"/>
<line x1="63.0" y1="570.03" x2="66.6" y2="570.03" stroke="#111" stroke-width="0.9"/>
<text x="59.50" y="572.03" font-size="7.7" text-anchor="end" textLength="22.57" lengthAdjust="spacingAndGlyphs">Axitinib</text>
<text x="175.80" y="572.03" font-size="7.81" textLength="43.80" lengthAdjust="spacingAndGlyphs">Src/broad TKI</text>
<rect x="102.62" y="574.09" width="69.58" height="5.5" fill="#1b5b8c"/>
<line x1="63.0" y1="576.84" x2="66.6" y2="576.84" stroke="#111" stroke-width="0.9"/>
<text x="59.50" y="578.84" font-size="7.7" text-anchor="end" textLength="35.81" lengthAdjust="spacingAndGlyphs">LY3009120</text>
<text x="175.80" y="578.84" font-size="7.81" textLength="46.96" lengthAdjust="spacingAndGlyphs">MAPK inhibitor</text>
<rect x="104.52" y="580.90" width="67.68" height="5.5" fill="#1b5b8c"/>
<line x1="63.0" y1="583.65" x2="66.6" y2="583.65" stroke="#111" stroke-width="0.9"/>
<text x="59.50" y="585.65" font-size="7.7" text-anchor="end" textLength="38.14" lengthAdjust="spacingAndGlyphs">SCH772984</text>
<text x="175.80" y="585.65" font-size="7.81" textLength="46.96" lengthAdjust="spacingAndGlyphs">MAPK inhibitor</text>
<rect x="105.37" y="587.71" width="66.83" height="5.5" fill="#fde01a"/>
<line x1="63.0" y1="590.46" x2="66.6" y2="590.46" stroke="#111" stroke-width="0.9"/>
<text x="59.50" y="592.46" font-size="7.7" text-anchor="end" textLength="34.44" lengthAdjust="spacingAndGlyphs">MLN−0128</text>
<text x="175.80" y="592.46" font-size="7.81" textLength="47.74" lengthAdjust="spacingAndGlyphs">mTOR inhibitor</text>
<rect x="105.79" y="594.52" width="66.41" height="5.5" fill="#521555"/>
<line x1="63.0" y1="597.27" x2="66.6" y2="597.27" stroke="#111" stroke-width="0.9"/>
<text x="59.50" y="599.27" font-size="7.7" text-anchor="end" textLength="29.57" lengthAdjust="spacingAndGlyphs">AZD7762</text>
<text x="175.80" y="599.27" font-size="7.81" textLength="45.78" lengthAdjust="spacingAndGlyphs">CHK1 inhibitor</text>
<rect x="107.48" y="601.33" width="64.72" height="5.5" fill="#1b5b8c"/>
<line x1="63.0" y1="604.08" x2="66.6" y2="604.08" stroke="#111" stroke-width="0.9"/>
<text x="59.50" y="606.08" font-size="7.7" text-anchor="end" textLength="35.22" lengthAdjust="spacingAndGlyphs">GDC−0623</text>
<text x="175.80" y="606.08" font-size="7.81" textLength="46.96" lengthAdjust="spacingAndGlyphs">MAPK inhibitor</text>
<rect x="107.90" y="608.14" width="64.30" height="5.5" fill="#17977f"/>
<line x1="63.0" y1="610.89" x2="66.6" y2="610.89" stroke="#111" stroke-width="0.9"/>
<text x="59.50" y="612.89" font-size="7.7" text-anchor="end" textLength="33.86" lengthAdjust="spacingAndGlyphs">Gandotinib</text>
<text x="175.80" y="612.89" font-size="7.81" textLength="39.86" lengthAdjust="spacingAndGlyphs">JAK inhibitor</text>
<path d="M66.55 477.0 L66.55 616.6 L172.8 616.6" fill="none" stroke="#111" stroke-width="1.3"/>
<line x1="66.60" y1="616.6" x2="66.60" y2="619.8" stroke="#111" stroke-width="0.9"/>
<text x="66.60" y="628.00" font-size="7.7" text-anchor="middle" textLength="11.87" lengthAdjust="spacingAndGlyphs">−50</text>
<line x1="87.73" y1="616.6" x2="87.73" y2="619.8" stroke="#111" stroke-width="0.9"/>
<text x="87.73" y="628.00" font-size="7.7" text-anchor="middle" textLength="11.87" lengthAdjust="spacingAndGlyphs">−40</text>
<line x1="108.86" y1="616.6" x2="108.86" y2="619.8" stroke="#111" stroke-width="0.9"/>
<text x="108.86" y="628.00" font-size="7.7" text-anchor="middle" textLength="11.87" lengthAdjust="spacingAndGlyphs">−30</text>
<line x1="129.99" y1="616.6" x2="129.99" y2="619.8" stroke="#111" stroke-width="0.9"/>
<text x="129.99" y="628.00" font-size="7.7" text-anchor="middle" textLength="11.87" lengthAdjust="spacingAndGlyphs">−20</text>
<line x1="151.12" y1="616.6" x2="151.12" y2="619.8" stroke="#111" stroke-width="0.9"/>
<text x="151.12" y="628.00" font-size="7.7" text-anchor="middle" textLength="11.87" lengthAdjust="spacingAndGlyphs">−10</text>
<line x1="172.25" y1="616.6" x2="172.25" y2="619.8" stroke="#111" stroke-width="0.9"/>
<text x="172.25" y="628.00" font-size="7.7" text-anchor="middle" textLength="3.89" lengthAdjust="spacingAndGlyphs">0</text>
<text x="68.00" y="641.50" font-size="9.0" textLength="107.00" lengthAdjust="spacingAndGlyphs">Differential drug sensitivity score</text>
<rect x="20.9" y="652.50" width="7.2" height="6.8" fill="#521555"/>
<text x="32.20" y="658.80" font-size="7.87" textLength="17.88" lengthAdjust="spacingAndGlyphs">Other</text>
<rect x="20.9" y="661.00" width="7.2" height="6.8" fill="#0d8390"/>
<text x="32.20" y="667.30" font-size="7.87" textLength="62.79" lengthAdjust="spacingAndGlyphs">Calcineurin inhibitor</text>
<rect x="20.9" y="669.70" width="7.2" height="6.8" fill="#7fb040"/>
<text x="32.20" y="676.00" font-size="7.87" textLength="41.73" lengthAdjust="spacingAndGlyphs">PKC inhibitor</text>
<rect x="104.8" y="652.50" width="7.2" height="6.8" fill="#4b2d80"/>
<text x="116.10" y="658.80" font-size="7.87" textLength="42.53" lengthAdjust="spacingAndGlyphs">PI3K inhibitor</text>
<rect x="104.8" y="661.00" width="7.2" height="6.8" fill="#17977f"/>
<text x="116.10" y="667.30" font-size="7.87" textLength="40.14" lengthAdjust="spacingAndGlyphs">JAK inhibitor</text>
<rect x="104.8" y="669.70" width="7.2" height="6.8" fill="#fde01a"/>
<text x="116.10" y="676.00" font-size="7.87" textLength="48.07" lengthAdjust="spacingAndGlyphs">mTOR inhibitor</text>
<rect x="174.6" y="652.50" width="7.2" height="6.8" fill="#1b5b8c"/>
<text x="185.90" y="658.80" font-size="7.87" textLength="47.29" lengthAdjust="spacingAndGlyphs">MAPK inhibitor</text>
<rect x="174.6" y="661.00" width="7.2" height="6.8" fill="#25904e"/>
<text x="185.90" y="667.30" font-size="7.87" textLength="58.02" lengthAdjust="spacingAndGlyphs">Src inhibitor/broad</text>
<rect x="426.7" y="477.3" width="68.2" height="137.2" fill="#e4e4e4"/>
<text x="296.20" y="471.60" font-size="9.25" textLength="149.60" lengthAdjust="spacingAndGlyphs">Enhancers of CAR T-cell cytotoxicity</text>
<rect x="317.70" y="478.80" width="106.75" height="7.4" fill="#4f2478"/>
<line x1="313.4" y1="482.50" x2="317.3" y2="482.50" stroke="#111" stroke-width="0.9"/>
<text x="309.80" y="484.60" font-size="7.65" text-anchor="end" textLength="31.30" lengthAdjust="spacingAndGlyphs">Birinapant</text>
<text x="428.00" y="484.60" font-size="7.81" textLength="46.94" lengthAdjust="spacingAndGlyphs">SMAC mimetic</text>
<rect x="317.70" y="487.87" width="97.38" height="7.4" fill="#4f2478"/>
<line x1="313.4" y1="491.57" x2="317.3" y2="491.57" stroke="#111" stroke-width="0.9"/>
<text x="309.80" y="493.67" font-size="7.65" text-anchor="end" textLength="24.54" lengthAdjust="spacingAndGlyphs">AT−406</text>
<text x="428.00" y="493.67" font-size="7.81" textLength="46.94" lengthAdjust="spacingAndGlyphs">SMAC mimetic</text>
<rect x="317.70" y="496.94" width="83.88" height="7.4" fill="#4f2478"/>
<line x1="313.4" y1="500.64" x2="317.3" y2="500.64" stroke="#111" stroke-width="0.9"/>
<text x="309.80" y="502.74" font-size="7.65" text-anchor="end" textLength="24.35" lengthAdjust="spacingAndGlyphs">LCL161</text>
<text x="428.00" y="502.74" font-size="7.81" textLength="46.94" lengthAdjust="spacingAndGlyphs">SMAC mimetic</text>
<rect x="317.70" y="506.01" width="66.25" height="7.4" fill="#8a2080"/>
<line x1="313.4" y1="509.71" x2="317.3" y2="509.71" stroke="#111" stroke-width="0.9"/>
<text x="309.80" y="511.81" font-size="7.65" text-anchor="end" textLength="36.70" lengthAdjust="spacingAndGlyphs">Bryostatin 1</text>
<text x="428.00" y="511.81" font-size="7.81" textLength="43.40" lengthAdjust="spacingAndGlyphs">PKC activator</text>
<rect x="317.70" y="515.08" width="53.88" height="7.4" fill="#c8347a"/>
<line x1="313.4" y1="518.78" x2="317.3" y2="518.78" stroke="#111" stroke-width="0.9"/>
<text x="309.80" y="520.88" font-size="7.65" text-anchor="end" textLength="33.62" lengthAdjust="spacingAndGlyphs">Idasanutlin</text>
<text x="428.00" y="520.88" font-size="7.81" textLength="47.74" lengthAdjust="spacingAndGlyphs">MDM2 inhibitor</text>
<rect x="317.70" y="524.15" width="52.00" height="7.4" fill="#cb4a4c"/>
<line x1="313.4" y1="527.85" x2="317.3" y2="527.85" stroke="#111" stroke-width="0.9"/>
<text x="309.80" y="529.95" font-size="7.65" text-anchor="end" textLength="30.91" lengthAdjust="spacingAndGlyphs">Etoposide</text>
<text x="428.00" y="529.95" font-size="7.81" textLength="46.96" lengthAdjust="spacingAndGlyphs">TopoII inhibitor</text>
<rect x="317.70" y="533.22" width="46.75" height="7.4" fill="#d98a62"/>
<line x1="313.4" y1="536.92" x2="317.3" y2="536.92" stroke="#111" stroke-width="0.9"/>
<text x="309.80" y="539.02" font-size="7.65" text-anchor="end" textLength="37.47" lengthAdjust="spacingAndGlyphs">Pemetrexed</text>
<text x="428.00" y="539.02" font-size="7.81" textLength="46.56" lengthAdjust="spacingAndGlyphs">DHFR inhibitor</text>
<rect x="317.70" y="542.29" width="45.51" height="7.4" fill="#c8347a"/>
<line x1="313.4" y1="545.99" x2="317.3" y2="545.99" stroke="#111" stroke-width="0.9"/>
<text x="309.80" y="548.09" font-size="7.65" text-anchor="end" textLength="25.69" lengthAdjust="spacingAndGlyphs">Nutlin−3</text>
<text x="428.00" y="548.09" font-size="7.81" textLength="47.74" lengthAdjust="spacingAndGlyphs">MDM2 inhibitor</text>
<rect x="317.70" y="551.36" width="44.50" height="7.4" fill="#d98a62"/>
<line x1="313.4" y1="555.06" x2="317.3" y2="555.06" stroke="#111" stroke-width="0.9"/>
<text x="309.80" y="557.16" font-size="7.65" text-anchor="end" textLength="34.96" lengthAdjust="spacingAndGlyphs">TEW−7197</text>
<text x="428.00" y="557.16" font-size="7.81" textLength="66.29" lengthAdjust="spacingAndGlyphs">TGFBR/ALK inhibitor</text>
<rect x="317.70" y="560.43" width="44.12" height="7.4" fill="#d98a62"/>
<line x1="313.4" y1="564.13" x2="317.3" y2="564.13" stroke="#111" stroke-width="0.9"/>
<text x="309.80" y="566.23" font-size="7.65" text-anchor="end" textLength="22.41" lengthAdjust="spacingAndGlyphs">AT 101</text>
<text x="428.00" y="566.23" font-size="7.81" textLength="65.11" lengthAdjust="spacingAndGlyphs">BCL2 family inhibitor</text>
<rect x="317.70" y="569.50" width="43.38" height="7.4" fill="#d98a62"/>
<line x1="313.4" y1="573.20" x2="317.3" y2="573.20" stroke="#111" stroke-width="0.9"/>
<text x="309.80" y="575.30" font-size="7.65" text-anchor="end" textLength="29.74" lengthAdjust="spacingAndGlyphs">Goserelin</text>
<text x="428.00" y="575.30" font-size="7.81" textLength="44.59" lengthAdjust="spacingAndGlyphs">GnRH agonist</text>
<rect x="317.70" y="578.57" width="39.25" height="7.4" fill="#cb4a4c"/>
<line x1="313.4" y1="582.27" x2="317.3" y2="582.27" stroke="#111" stroke-width="0.9"/>
<text x="309.80" y="584.37" font-size="7.65" text-anchor="end" textLength="34.00" lengthAdjust="spacingAndGlyphs">Teniposide</text>
<text x="428.00" y="584.37" font-size="7.81" textLength="46.96" lengthAdjust="spacingAndGlyphs">TopoII inhibitor</text>
<rect x="317.70" y="587.64" width="38.50" height="7.4" fill="#d98a62"/>
<line x1="313.4" y1="591.34" x2="317.3" y2="591.34" stroke="#111" stroke-width="0.9"/>
<text x="309.80" y="593.44" font-size="7.65" text-anchor="end" textLength="29.35" lengthAdjust="spacingAndGlyphs">Plerixafor</text>
<text x="428.00" y="593.44" font-size="7.81" textLength="58.80" lengthAdjust="spacingAndGlyphs">CXCR4 antagonist</text>
<rect x="317.70" y="596.71" width="38.12" height="7.4" fill="#d98a62"/>
<line x1="313.4" y1="600.41" x2="317.3" y2="600.41" stroke="#111" stroke-width="0.9"/>
<text x="309.80" y="602.51" font-size="7.65" text-anchor="end" textLength="33.61" lengthAdjust="spacingAndGlyphs">Cytarabine</text>
<text x="428.00" y="602.51" font-size="7.81" textLength="44.99" lengthAdjust="spacingAndGlyphs">Antimetabolite</text>
<rect x="317.70" y="605.78" width="38.12" height="7.4" fill="#d98a62"/>
<line x1="313.4" y1="609.48" x2="317.3" y2="609.48" stroke="#111" stroke-width="0.9"/>
<text x="309.80" y="611.58" font-size="7.65" text-anchor="end" textLength="31.49" lengthAdjust="spacingAndGlyphs">AGI−6780</text>
<text x="428.00" y="611.58" font-size="7.81" textLength="43.01" lengthAdjust="spacingAndGlyphs">IDH2 inhibitor</text>
<path d="M317.3 477.3 L317.3 616.8 L424.3 616.8" fill="none" stroke="#111" stroke-width="1.3"/>
<line x1="317.20" y1="616.8" x2="317.20" y2="620.0" stroke="#111" stroke-width="0.9"/>
<text x="317.20" y="629.50" font-size="7.7" text-anchor="middle" textLength="3.89" lengthAdjust="spacingAndGlyphs">0</text>
<line x1="354.70" y1="616.8" x2="354.70" y2="620.0" stroke="#111" stroke-width="0.9"/>
<text x="354.70" y="629.50" font-size="7.7" text-anchor="middle" textLength="7.79" lengthAdjust="spacingAndGlyphs">10</text>
<line x1="392.20" y1="616.8" x2="392.20" y2="620.0" stroke="#111" stroke-width="0.9"/>
<text x="392.20" y="629.50" font-size="7.7" text-anchor="middle" textLength="7.79" lengthAdjust="spacingAndGlyphs">20</text>
<text x="317.00" y="641.50" font-size="9.0" textLength="107.30" lengthAdjust="spacingAndGlyphs">Differential drug sensitivity score</text>
<rect x="302.1" y="652.50" width="7.4" height="6.8" fill="#4f2478"/>
<text x="312.70" y="658.80" font-size="7.87" textLength="47.27" lengthAdjust="spacingAndGlyphs">SMAC mimetic</text>
<rect x="302.1" y="661.00" width="7.4" height="6.8" fill="#c8347a"/>
<text x="312.70" y="667.30" font-size="7.87" textLength="48.08" lengthAdjust="spacingAndGlyphs">MDM2 inhibitor</text>
<rect x="302.1" y="669.70" width="7.4" height="6.8" fill="#d98a62"/>
<text x="312.70" y="676.00" font-size="7.87" textLength="17.88" lengthAdjust="spacingAndGlyphs">Other</text>
<rect x="373.0" y="652.50" width="7.4" height="6.8" fill="#8a2080"/>
<text x="383.60" y="658.80" font-size="7.87" textLength="43.71" lengthAdjust="spacingAndGlyphs">PKC activator</text>
<rect x="373.0" y="661.00" width="7.4" height="6.8" fill="#cb4a4c"/>
<text x="383.60" y="667.30" font-size="7.87" textLength="82.26" lengthAdjust="spacingAndGlyphs">Topoisomerase II inhibitor</text>
</g>
</svg></body></html>
